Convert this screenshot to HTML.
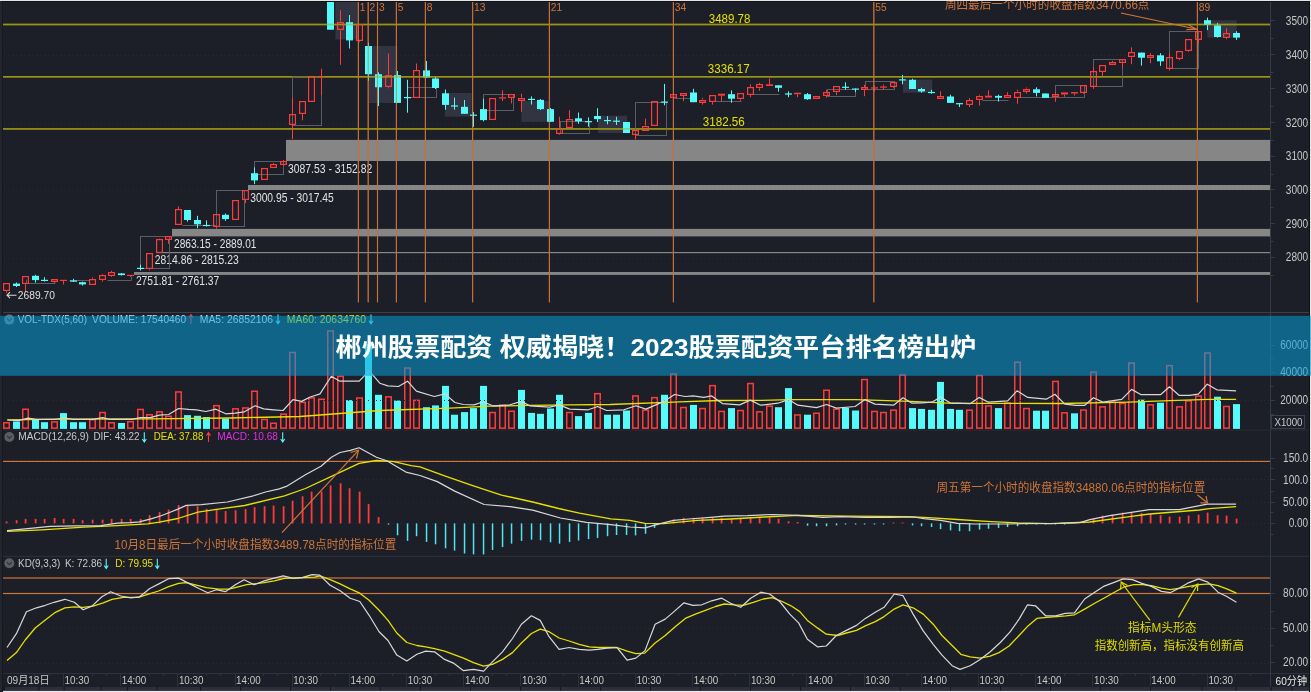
<!DOCTYPE html>
<html><head><meta charset="utf-8"><title>chart</title>
<style>html,body{margin:0;padding:0;background:#1c1f27;overflow:hidden;}svg{display:block;}</style>
</head><body><svg width="1311" height="692" viewBox="0 0 1311 692"><rect x="0" y="0" width="1311" height="692" fill="#1c1f27"/>
<line x1="4" y1="55.5" x2="1270" y2="55.5" stroke="#272b35" stroke-width="1" stroke-dasharray="1 3"/>
<line x1="4" y1="123.5" x2="1270" y2="123.5" stroke="#272b35" stroke-width="1" stroke-dasharray="1 3"/>
<line x1="4" y1="190.5" x2="1270" y2="190.5" stroke="#272b35" stroke-width="1" stroke-dasharray="1 3"/>
<line x1="4" y1="258.5" x2="1270" y2="258.5" stroke="#272b35" stroke-width="1" stroke-dasharray="1 3"/>
<rect x="286" y="139.9" width="984" height="21.099999999999994" fill="#868686"/>
<rect x="248" y="185" width="1022" height="5" fill="#868686"/>
<rect x="172" y="228.9" width="1098" height="7.5" fill="#868686"/>
<rect x="156" y="252" width="1114" height="1.1999999999999886" fill="#868686"/>
<rect x="134" y="272" width="1136" height="2.8999999999999773" fill="#868686"/>
<text x="288.0" y="172.9" font-size="12.2" fill="#e2e2e2" font-family='"Liberation Sans","Noto Sans CJK SC",sans-serif' textLength="84.3" lengthAdjust="spacingAndGlyphs">3087.53 - 3152.82</text>
<text x="250.2" y="201.5" font-size="12.2" fill="#e2e2e2" font-family='"Liberation Sans","Noto Sans CJK SC",sans-serif' textLength="83.6" lengthAdjust="spacingAndGlyphs">3000.95 - 3017.45</text>
<text x="174.0" y="248.0" font-size="12.2" fill="#e2e2e2" font-family='"Liberation Sans","Noto Sans CJK SC",sans-serif' textLength="82.5" lengthAdjust="spacingAndGlyphs">2863.15 - 2889.01</text>
<text x="154.8" y="264.4" font-size="12.2" fill="#e2e2e2" font-family='"Liberation Sans","Noto Sans CJK SC",sans-serif' textLength="83.9" lengthAdjust="spacingAndGlyphs">2814.86 - 2815.23</text>
<text x="135.9" y="285.4" font-size="12.2" fill="#e2e2e2" font-family='"Liberation Sans","Noto Sans CJK SC",sans-serif' textLength="83.3" lengthAdjust="spacingAndGlyphs">2751.81 - 2761.37</text>
<rect x="335.4" y="0" width="22.600000000000023" height="39.4" fill="#3a3c4c" fill-opacity="0.75"/>
<rect x="369" y="46" width="28.399999999999977" height="57" fill="#3a3c4c" fill-opacity="0.75"/>
<rect x="445" y="93" width="26.600000000000023" height="23.599999999999994" fill="#3a3c4c" fill-opacity="0.75"/>
<rect x="521.4" y="101" width="28.899999999999977" height="20.900000000000006" fill="#3a3c4c" fill-opacity="0.75"/>
<rect x="598" y="115.7" width="29" height="17.299999999999997" fill="#3a3c4c" fill-opacity="0.75"/>
<rect x="903" y="79.5" width="29.299999999999955" height="13.200000000000003" fill="#3a3c4c" fill-opacity="0.75"/>
<rect x="1207.3" y="20.2" width="29.40000000000009" height="17.400000000000002" fill="#3a3c4c" fill-opacity="0.75"/>
<rect x="3" y="23.7" width="1267" height="1.6" fill="#9a9414"/>
<text x="708.8" y="22.8" font-size="13" fill="#e6e000" font-family='"Liberation Sans","Noto Sans CJK SC",sans-serif' textLength="41.6" lengthAdjust="spacingAndGlyphs">3489.78</text>
<rect x="3" y="76.0" width="1267" height="1.6" fill="#9a9414"/>
<text x="707.8" y="73.0" font-size="13" fill="#e6e000" font-family='"Liberation Sans","Noto Sans CJK SC",sans-serif' textLength="41.9" lengthAdjust="spacingAndGlyphs">3336.17</text>
<rect x="3" y="128.1" width="1267" height="1.6" fill="#9a9414"/>
<text x="702.8" y="125.6" font-size="13" fill="#e6e000" font-family='"Liberation Sans","Noto Sans CJK SC",sans-serif' textLength="42.0" lengthAdjust="spacingAndGlyphs">3182.56</text>
<rect x="140.5" y="236.5" width="29" height="32" fill="none" stroke="#5a5d64" stroke-width="1"/>
<rect x="216.5" y="190.5" width="28" height="36" fill="none" stroke="#5a5d64" stroke-width="1"/>
<rect x="254.5" y="161.5" width="29" height="13" fill="none" stroke="#5a5d64" stroke-width="1"/>
<rect x="292.5" y="76.5" width="29" height="49" fill="none" stroke="#5a5d64" stroke-width="1"/>
<rect x="407.5" y="87.5" width="29" height="10" fill="none" stroke="#5a5d64" stroke-width="1"/>
<rect x="483.5" y="94.5" width="30" height="16" fill="none" stroke="#5a5d64" stroke-width="1"/>
<rect x="560.5" y="121.5" width="29" height="12" fill="none" stroke="#5a5d64" stroke-width="1"/>
<rect x="635.5" y="102.5" width="31" height="33" fill="none" stroke="#5a5d64" stroke-width="1"/>
<rect x="827.5" y="89.5" width="28" height="7" fill="none" stroke="#5a5d64" stroke-width="1"/>
<rect x="865.5" y="81.5" width="29" height="8" fill="none" stroke="#5a5d64" stroke-width="1"/>
<rect x="1055.5" y="85.5" width="29" height="12" fill="none" stroke="#5a5d64" stroke-width="1"/>
<rect x="1093.5" y="59.5" width="29" height="27" fill="none" stroke="#5a5d64" stroke-width="1"/>
<rect x="1169.5" y="31.5" width="29" height="37" fill="none" stroke="#5a5d64" stroke-width="1"/>
<polyline points="26.5,279.5 26.5,283.5 55.5,283.5" fill="none" stroke="#5a5d64" stroke-width="1"/>
<polyline points="69.5,280.5 89.5,280.5" fill="none" stroke="#5a5d64" stroke-width="1"/>
<polyline points="107.5,280.5 131.5,280.5 131.5,276.5" fill="none" stroke="#5a5d64" stroke-width="1"/>
<polyline points="182.5,225.5 216.5,225.5" fill="none" stroke="#5a5d64" stroke-width="1"/>
<polyline points="674.5,98.5 690.5,98.5" fill="none" stroke="#5a5d64" stroke-width="1"/>
<polyline points="713.5,101.5 741.5,101.5" fill="none" stroke="#5a5d64" stroke-width="1"/>
<polyline points="750.5,94.5 779.5,94.5" fill="none" stroke="#5a5d64" stroke-width="1"/>
<polyline points="982.5,100.5 1008.5,100.5" fill="none" stroke="#5a5d64" stroke-width="1"/>
<polyline points="1020.5,97.5 1055.5,97.5" fill="none" stroke="#5a5d64" stroke-width="1"/>
<rect x="357.84999999999997" y="1" width="1.1" height="301.3" fill="#c8703a"/>
<rect x="367.65" y="1" width="1.1" height="301.3" fill="#c8703a"/>
<rect x="376.95" y="1" width="1.1" height="301.3" fill="#c8703a"/>
<rect x="395.84999999999997" y="1" width="1.1" height="301.3" fill="#c8703a"/>
<rect x="424.84999999999997" y="1" width="1.1" height="301.3" fill="#c8703a"/>
<rect x="472.05" y="1" width="1.1" height="301.3" fill="#c8703a"/>
<rect x="548.85" y="1" width="1.1" height="301.3" fill="#c8703a"/>
<rect x="672.85" y="1" width="1.1" height="301.3" fill="#c8703a"/>
<rect x="873.25" y="1" width="1.1" height="301.3" fill="#c8703a"/>
<rect x="1196.8500000000001" y="1" width="1.1" height="301.3" fill="#c8703a"/>
<rect x="6" y="291.3" width="1" height="1.6" fill="#ff3a3a"/>
<rect x="3.6" y="283.60" width="5.8" height="6.80" fill="none" stroke="#ff3a3a" stroke-width="1.2"/>
<rect x="16" y="282.5" width="1" height="4.5" fill="#55fafa"/>
<rect x="13" y="283.6" width="7" height="2.4" fill="#55fafa"/>
<rect x="25" y="283.6" width="1" height="8.3" fill="#ff3a3a"/>
<rect x="22.6" y="276.60" width="5.8" height="6.80" fill="none" stroke="#ff3a3a" stroke-width="1.2"/>
<rect x="35" y="274.8" width="1" height="7.8" fill="#55fafa"/>
<rect x="32" y="275.8" width="7" height="4.3" fill="#55fafa"/>
<rect x="44" y="277.2" width="1" height="4.3" fill="#55fafa"/>
<rect x="41" y="279.8" width="7" height="1.2" fill="#55fafa"/>
<rect x="54" y="281.7" width="1" height="1.3" fill="#ff3a3a"/>
<rect x="51.6" y="279.60" width="5.8" height="1.80" fill="none" stroke="#ff3a3a" stroke-width="1.2"/>
<rect x="63" y="280.9" width="1" height="3.5" fill="#ff3a3a"/>
<rect x="60" y="279.8" width="7" height="1.2" fill="#ff3a3a"/>
<rect x="73" y="278.8" width="1" height="3.2" fill="#55fafa"/>
<rect x="70" y="280.4" width="7" height="1.3" fill="#55fafa"/>
<rect x="82" y="281.7" width="1" height="3.8" fill="#55fafa"/>
<rect x="79" y="282.2" width="7" height="2.2" fill="#55fafa"/>
<rect x="92" y="277.4" width="1" height="1.3" fill="#ff3a3a"/>
<rect x="89.6" y="279.60" width="5.8" height="4.80" fill="none" stroke="#ff3a3a" stroke-width="1.2"/>
<rect x="102" y="274.2" width="1" height="0.9" fill="#ff3a3a"/>
<rect x="102" y="280.1" width="1" height="1.6" fill="#ff3a3a"/>
<rect x="99.6" y="275.60" width="5.8" height="3.80" fill="none" stroke="#ff3a3a" stroke-width="1.2"/>
<rect x="111" y="270.8" width="1" height="1.5" fill="#ff3a3a"/>
<rect x="111" y="275.8" width="1" height="1.1" fill="#ff3a3a"/>
<rect x="108.6" y="272.60" width="5.8" height="2.80" fill="none" stroke="#ff3a3a" stroke-width="1.2"/>
<rect x="121" y="273.0" width="1" height="2.5" fill="#55fafa"/>
<rect x="118" y="273.4" width="7" height="1.7" fill="#55fafa"/>
<rect x="130" y="275.5" width="1" height="1.4" fill="#ff3a3a"/>
<rect x="127" y="274.8" width="7" height="1.2" fill="#ff3a3a"/>
<rect x="140" y="264.6" width="1" height="5.9" fill="#55fafa"/>
<rect x="137" y="267.8" width="7" height="1.2" fill="#55fafa"/>
<rect x="149" y="269.4" width="1" height="1.1" fill="#ff3a3a"/>
<rect x="146.6" y="253.60" width="5.8" height="14.80" fill="none" stroke="#ff3a3a" stroke-width="1.2"/>
<rect x="159" y="238.6" width="1" height="0.6" fill="#ff3a3a"/>
<rect x="156.6" y="239.60" width="5.8" height="12.80" fill="none" stroke="#ff3a3a" stroke-width="1.2"/>
<rect x="168" y="239.9" width="1" height="3.9" fill="#ff3a3a"/>
<rect x="165.6" y="236.60" width="5.8" height="2.80" fill="none" stroke="#ff3a3a" stroke-width="1.2"/>
<rect x="178" y="206.4" width="1" height="2.9" fill="#ff3a3a"/>
<rect x="175.6" y="209.60" width="5.8" height="14.80" fill="none" stroke="#ff3a3a" stroke-width="1.2"/>
<rect x="187" y="210.0" width="1" height="11.7" fill="#55fafa"/>
<rect x="184" y="210.0" width="7" height="10.0" fill="#55fafa"/>
<rect x="197" y="215.8" width="1" height="12.4" fill="#55fafa"/>
<rect x="194" y="220.0" width="7" height="4.3" fill="#55fafa"/>
<rect x="206" y="220.4" width="1" height="6.1" fill="#55fafa"/>
<rect x="203" y="224.9" width="7" height="1.2" fill="#55fafa"/>
<rect x="216" y="226.9" width="1" height="1.7" fill="#ff3a3a"/>
<rect x="213.6" y="214.60" width="5.8" height="11.80" fill="none" stroke="#ff3a3a" stroke-width="1.2"/>
<rect x="225" y="213.5" width="1" height="7.3" fill="#55fafa"/>
<rect x="222" y="214.8" width="7" height="4.3" fill="#55fafa"/>
<rect x="232.6" y="200.60" width="5.8" height="18.80" fill="none" stroke="#ff3a3a" stroke-width="1.2"/>
<rect x="245" y="199.9" width="1" height="3.3" fill="#ff3a3a"/>
<rect x="242.6" y="190.60" width="5.8" height="8.80" fill="none" stroke="#ff3a3a" stroke-width="1.2"/>
<rect x="254" y="167.4" width="1" height="16.7" fill="#55fafa"/>
<rect x="251" y="173.2" width="7" height="7.2" fill="#55fafa"/>
<rect x="261.6" y="168.60" width="5.8" height="10.80" fill="none" stroke="#ff3a3a" stroke-width="1.2"/>
<rect x="273" y="163.0" width="1" height="1.1" fill="#ff3a3a"/>
<rect x="270.6" y="164.60" width="5.8" height="2.80" fill="none" stroke="#ff3a3a" stroke-width="1.2"/>
<rect x="283" y="160.0" width="1" height="0.9" fill="#ff3a3a"/>
<rect x="283" y="165.2" width="1" height="0.8" fill="#ff3a3a"/>
<rect x="280.6" y="161.60" width="5.8" height="2.80" fill="none" stroke="#ff3a3a" stroke-width="1.2"/>
<rect x="292" y="98.0" width="1" height="15.8" fill="#ff3a3a"/>
<rect x="292" y="124.6" width="1" height="14.6" fill="#ff3a3a"/>
<rect x="289.6" y="114.60" width="5.8" height="9.80" fill="none" stroke="#ff3a3a" stroke-width="1.2"/>
<rect x="302" y="113.8" width="1" height="6.5" fill="#ff3a3a"/>
<rect x="299.6" y="101.60" width="5.8" height="11.80" fill="none" stroke="#ff3a3a" stroke-width="1.2"/>
<rect x="308.6" y="76.60" width="5.8" height="24.80" fill="none" stroke="#ff3a3a" stroke-width="1.2"/>
<rect x="321" y="68.7" width="1" height="7.3" fill="#ff3a3a"/>
<rect x="321" y="77.0" width="1" height="18.1" fill="#ff3a3a"/>
<rect x="318" y="76.0" width="7" height="1.2" fill="#ff3a3a"/>
<rect x="330" y="0.0" width="1" height="29.7" fill="#55fafa"/>
<rect x="327" y="0.0" width="7" height="29.7" fill="#55fafa"/>
<rect x="340" y="10.3" width="1" height="11.3" fill="#ff3a3a"/>
<rect x="340" y="30.4" width="1" height="34.4" fill="#ff3a3a"/>
<rect x="337.6" y="22.60" width="5.8" height="6.80" fill="none" stroke="#ff3a3a" stroke-width="1.2"/>
<rect x="349" y="15.0" width="1" height="33.5" fill="#55fafa"/>
<rect x="346" y="22.2" width="7" height="18.2" fill="#55fafa"/>
<rect x="359" y="41.3" width="1" height="1.0" fill="#ff3a3a"/>
<rect x="356.6" y="24.60" width="5.8" height="15.80" fill="none" stroke="#ff3a3a" stroke-width="1.2"/>
<rect x="368" y="42.8" width="1" height="38.0" fill="#55fafa"/>
<rect x="365" y="46.0" width="7" height="28.2" fill="#55fafa"/>
<rect x="378" y="72.3" width="1" height="33.8" fill="#55fafa"/>
<rect x="375" y="74.2" width="7" height="13.1" fill="#55fafa"/>
<rect x="388" y="53.5" width="1" height="21.2" fill="#ff3a3a"/>
<rect x="388" y="87.3" width="1" height="1.0" fill="#ff3a3a"/>
<rect x="385.6" y="75.60" width="5.8" height="10.80" fill="none" stroke="#ff3a3a" stroke-width="1.2"/>
<rect x="397" y="71.0" width="1" height="31.9" fill="#55fafa"/>
<rect x="394" y="75.1" width="7" height="27.8" fill="#55fafa"/>
<rect x="407" y="79.8" width="1" height="32.9" fill="#55fafa"/>
<rect x="404" y="97.0" width="7" height="1.2" fill="#55fafa"/>
<rect x="416" y="63.5" width="1" height="6.4" fill="#ff3a3a"/>
<rect x="413.6" y="70.60" width="5.8" height="26.80" fill="none" stroke="#ff3a3a" stroke-width="1.2"/>
<rect x="426" y="61.0" width="1" height="17.0" fill="#55fafa"/>
<rect x="423" y="70.4" width="7" height="7.0" fill="#55fafa"/>
<rect x="435" y="77.0" width="1" height="12.0" fill="#55fafa"/>
<rect x="432" y="78.5" width="7" height="9.5" fill="#55fafa"/>
<rect x="445" y="89.5" width="1" height="20.2" fill="#55fafa"/>
<rect x="442" y="93.3" width="7" height="11.6" fill="#55fafa"/>
<rect x="454" y="97.6" width="1" height="12.1" fill="#55fafa"/>
<rect x="451" y="105.4" width="7" height="1.2" fill="#55fafa"/>
<rect x="464" y="100.0" width="1" height="13.8" fill="#55fafa"/>
<rect x="461" y="106.8" width="7" height="7.0" fill="#55fafa"/>
<rect x="473" y="112.0" width="1" height="14.8" fill="#55fafa"/>
<rect x="470" y="114.6" width="7" height="1.2" fill="#55fafa"/>
<rect x="483" y="98.7" width="1" height="22.6" fill="#55fafa"/>
<rect x="480" y="109.1" width="7" height="11.0" fill="#55fafa"/>
<rect x="489.6" y="98.60" width="5.8" height="20.80" fill="none" stroke="#ff3a3a" stroke-width="1.2"/>
<rect x="502" y="90.3" width="1" height="7.0" fill="#ff3a3a"/>
<rect x="502" y="97.9" width="1" height="3.1" fill="#ff3a3a"/>
<rect x="499" y="97.3" width="7" height="1.2" fill="#ff3a3a"/>
<rect x="511" y="97.6" width="1" height="5.8" fill="#ff3a3a"/>
<rect x="508.6" y="94.60" width="5.8" height="2.80" fill="none" stroke="#ff3a3a" stroke-width="1.2"/>
<rect x="521" y="93.8" width="1" height="3.8" fill="#ff3a3a"/>
<rect x="521" y="101.0" width="1" height="10.8" fill="#ff3a3a"/>
<rect x="518.6" y="98.60" width="5.8" height="1.80" fill="none" stroke="#ff3a3a" stroke-width="1.2"/>
<rect x="531" y="96.4" width="1" height="8.1" fill="#55fafa"/>
<rect x="528" y="98.8" width="7" height="1.2" fill="#55fafa"/>
<rect x="540" y="99.0" width="1" height="11.0" fill="#55fafa"/>
<rect x="537" y="99.9" width="7" height="9.2" fill="#55fafa"/>
<rect x="550" y="108.0" width="1" height="14.0" fill="#55fafa"/>
<rect x="547" y="109.1" width="7" height="12.7" fill="#55fafa"/>
<rect x="559" y="116.8" width="1" height="11.0" fill="#ff3a3a"/>
<rect x="559" y="133.6" width="1" height="1.1" fill="#ff3a3a"/>
<rect x="556.6" y="128.60" width="5.8" height="4.80" fill="none" stroke="#ff3a3a" stroke-width="1.2"/>
<rect x="569" y="110.2" width="1" height="8.4" fill="#ff3a3a"/>
<rect x="566.6" y="119.60" width="5.8" height="7.80" fill="none" stroke="#ff3a3a" stroke-width="1.2"/>
<rect x="578" y="112.5" width="1" height="11.3" fill="#55fafa"/>
<rect x="575" y="118.3" width="7" height="3.1" fill="#55fafa"/>
<rect x="588" y="117.4" width="1" height="9.2" fill="#55fafa"/>
<rect x="585" y="121.1" width="7" height="1.2" fill="#55fafa"/>
<rect x="597" y="108.2" width="1" height="13.8" fill="#55fafa"/>
<rect x="594" y="116.0" width="7" height="3.1" fill="#55fafa"/>
<rect x="607" y="116.2" width="1" height="8.1" fill="#55fafa"/>
<rect x="604" y="120.0" width="7" height="1.2" fill="#55fafa"/>
<rect x="616" y="116.8" width="1" height="8.1" fill="#55fafa"/>
<rect x="613" y="120.6" width="7" height="1.2" fill="#55fafa"/>
<rect x="626" y="122.0" width="1" height="11.0" fill="#55fafa"/>
<rect x="623" y="122.0" width="7" height="11.0" fill="#55fafa"/>
<rect x="635" y="135.0" width="1" height="4.4" fill="#ff3a3a"/>
<rect x="632.6" y="130.60" width="5.8" height="3.80" fill="none" stroke="#ff3a3a" stroke-width="1.2"/>
<rect x="645" y="118.6" width="1" height="6.9" fill="#ff3a3a"/>
<rect x="642.6" y="126.60" width="5.8" height="3.80" fill="none" stroke="#ff3a3a" stroke-width="1.2"/>
<rect x="651.6" y="101.60" width="5.8" height="23.80" fill="none" stroke="#ff3a3a" stroke-width="1.2"/>
<rect x="664" y="83.9" width="1" height="21.4" fill="#55fafa"/>
<rect x="661" y="101.5" width="7" height="1.2" fill="#55fafa"/>
<rect x="673" y="97.7" width="1" height="12.8" fill="#ff3a3a"/>
<rect x="670.6" y="94.60" width="5.8" height="2.80" fill="none" stroke="#ff3a3a" stroke-width="1.2"/>
<rect x="683" y="95.2" width="1" height="6.0" fill="#ff3a3a"/>
<rect x="680.6" y="93.60" width="5.8" height="1.80" fill="none" stroke="#ff3a3a" stroke-width="1.2"/>
<rect x="693" y="88.8" width="1" height="13.4" fill="#55fafa"/>
<rect x="690" y="92.5" width="7" height="9.7" fill="#55fafa"/>
<rect x="702" y="97.7" width="1" height="1.8" fill="#ff3a3a"/>
<rect x="702" y="102.2" width="1" height="2.4" fill="#ff3a3a"/>
<rect x="699.6" y="100.60" width="5.8" height="1.80" fill="none" stroke="#ff3a3a" stroke-width="1.2"/>
<rect x="712" y="101.7" width="1" height="2.9" fill="#ff3a3a"/>
<rect x="709.6" y="95.60" width="5.8" height="5.80" fill="none" stroke="#ff3a3a" stroke-width="1.2"/>
<rect x="721" y="95.7" width="1" height="5.5" fill="#ff3a3a"/>
<rect x="718" y="93.7" width="7" height="2.0" fill="#ff3a3a"/>
<rect x="731" y="90.3" width="1" height="12.4" fill="#55fafa"/>
<rect x="728" y="94.2" width="7" height="4.5" fill="#55fafa"/>
<rect x="740" y="99.2" width="1" height="1.5" fill="#ff3a3a"/>
<rect x="737.6" y="93.60" width="5.8" height="4.80" fill="none" stroke="#ff3a3a" stroke-width="1.2"/>
<rect x="750" y="84.3" width="1" height="2.5" fill="#ff3a3a"/>
<rect x="750" y="94.7" width="1" height="2.5" fill="#ff3a3a"/>
<rect x="747.6" y="87.60" width="5.8" height="6.80" fill="none" stroke="#ff3a3a" stroke-width="1.2"/>
<rect x="759" y="82.8" width="1" height="1.5" fill="#ff3a3a"/>
<rect x="759" y="88.3" width="1" height="2.5" fill="#ff3a3a"/>
<rect x="756.6" y="84.60" width="5.8" height="2.80" fill="none" stroke="#ff3a3a" stroke-width="1.2"/>
<rect x="769" y="78.4" width="1" height="5.9" fill="#ff3a3a"/>
<rect x="766" y="84.3" width="7" height="1.7" fill="#ff3a3a"/>
<rect x="778" y="85.3" width="1" height="6.4" fill="#55fafa"/>
<rect x="775" y="85.3" width="7" height="2.5" fill="#55fafa"/>
<rect x="788" y="91.3" width="1" height="5.9" fill="#55fafa"/>
<rect x="785" y="93.4" width="7" height="1.2" fill="#55fafa"/>
<rect x="797" y="94.2" width="1" height="3.0" fill="#ff3a3a"/>
<rect x="794" y="92.7" width="7" height="1.5" fill="#ff3a3a"/>
<rect x="807" y="93.0" width="1" height="6.8" fill="#55fafa"/>
<rect x="804" y="94.2" width="7" height="5.0" fill="#55fafa"/>
<rect x="813.6" y="96.60" width="5.8" height="1.80" fill="none" stroke="#ff3a3a" stroke-width="1.2"/>
<rect x="826" y="89.8" width="1" height="2.1" fill="#ff3a3a"/>
<rect x="826" y="96.2" width="1" height="1.5" fill="#ff3a3a"/>
<rect x="823.6" y="92.60" width="5.8" height="2.80" fill="none" stroke="#ff3a3a" stroke-width="1.2"/>
<rect x="836" y="92.2" width="1" height="3.0" fill="#ff3a3a"/>
<rect x="833.6" y="86.60" width="5.8" height="4.80" fill="none" stroke="#ff3a3a" stroke-width="1.2"/>
<rect x="845" y="82.3" width="1" height="7.5" fill="#55fafa"/>
<rect x="842" y="86.7" width="7" height="1.2" fill="#55fafa"/>
<rect x="855" y="88.5" width="1" height="3.7" fill="#55fafa"/>
<rect x="852" y="88.5" width="7" height="1.2" fill="#55fafa"/>
<rect x="864" y="84.8" width="1" height="2.5" fill="#ff3a3a"/>
<rect x="864" y="89.6" width="1" height="6.6" fill="#ff3a3a"/>
<rect x="861.6" y="87.60" width="5.8" height="1.80" fill="none" stroke="#ff3a3a" stroke-width="1.2"/>
<rect x="874" y="85.6" width="1" height="1.7" fill="#ff3a3a"/>
<rect x="874" y="87.9" width="1" height="3.6" fill="#ff3a3a"/>
<rect x="871" y="87.3" width="7" height="1.2" fill="#ff3a3a"/>
<rect x="883" y="84.6" width="1" height="1.9" fill="#ff3a3a"/>
<rect x="883" y="87.1" width="1" height="2.7" fill="#ff3a3a"/>
<rect x="880" y="86.5" width="7" height="1.2" fill="#ff3a3a"/>
<rect x="893" y="86.6" width="1" height="1.2" fill="#ff3a3a"/>
<rect x="890.6" y="82.60" width="5.8" height="3.80" fill="none" stroke="#ff3a3a" stroke-width="1.2"/>
<rect x="902" y="74.9" width="1" height="9.4" fill="#55fafa"/>
<rect x="899" y="79.3" width="7" height="1.2" fill="#55fafa"/>
<rect x="912" y="78.7" width="1" height="10.3" fill="#55fafa"/>
<rect x="909" y="79.8" width="7" height="9.2" fill="#55fafa"/>
<rect x="921" y="87.8" width="1" height="4.9" fill="#55fafa"/>
<rect x="918" y="89.0" width="7" height="2.5" fill="#55fafa"/>
<rect x="931" y="89.8" width="1" height="3.9" fill="#55fafa"/>
<rect x="928" y="91.9" width="7" height="1.2" fill="#55fafa"/>
<rect x="940" y="91.3" width="1" height="4.9" fill="#ff3a3a"/>
<rect x="937.6" y="96.60" width="5.8" height="1.80" fill="none" stroke="#ff3a3a" stroke-width="1.2"/>
<rect x="950" y="94.7" width="1" height="8.2" fill="#55fafa"/>
<rect x="947" y="96.5" width="7" height="6.4" fill="#55fafa"/>
<rect x="959" y="103.1" width="1" height="4.0" fill="#55fafa"/>
<rect x="956" y="103.1" width="7" height="1.2" fill="#55fafa"/>
<rect x="969" y="98.2" width="1" height="2.0" fill="#ff3a3a"/>
<rect x="969" y="104.6" width="1" height="2.5" fill="#ff3a3a"/>
<rect x="966.6" y="100.60" width="5.8" height="3.80" fill="none" stroke="#ff3a3a" stroke-width="1.2"/>
<rect x="979" y="94.7" width="1" height="1.0" fill="#ff3a3a"/>
<rect x="979" y="100.2" width="1" height="5.4" fill="#ff3a3a"/>
<rect x="976.6" y="96.60" width="5.8" height="2.80" fill="none" stroke="#ff3a3a" stroke-width="1.2"/>
<rect x="988" y="90.3" width="1" height="5.4" fill="#ff3a3a"/>
<rect x="985" y="95.7" width="7" height="1.8" fill="#ff3a3a"/>
<rect x="998" y="94.7" width="1" height="6.8" fill="#55fafa"/>
<rect x="995" y="95.9" width="7" height="1.8" fill="#55fafa"/>
<rect x="1007" y="92.2" width="1" height="3.0" fill="#ff3a3a"/>
<rect x="1004.6" y="95.60" width="5.8" height="1.80" fill="none" stroke="#ff3a3a" stroke-width="1.2"/>
<rect x="1017" y="89.8" width="1" height="1.9" fill="#ff3a3a"/>
<rect x="1017" y="97.7" width="1" height="6.0" fill="#ff3a3a"/>
<rect x="1014.6" y="92.60" width="5.8" height="4.80" fill="none" stroke="#ff3a3a" stroke-width="1.2"/>
<rect x="1026" y="87.5" width="1" height="1.1" fill="#ff3a3a"/>
<rect x="1026" y="91.7" width="1" height="1.8" fill="#ff3a3a"/>
<rect x="1023.6" y="89.60" width="5.8" height="1.80" fill="none" stroke="#ff3a3a" stroke-width="1.2"/>
<rect x="1036" y="87.3" width="1" height="9.1" fill="#55fafa"/>
<rect x="1033" y="89.3" width="7" height="3.6" fill="#55fafa"/>
<rect x="1045" y="93.5" width="1" height="4.4" fill="#55fafa"/>
<rect x="1042" y="93.5" width="7" height="4.4" fill="#55fafa"/>
<rect x="1055" y="91.6" width="1" height="2.2" fill="#ff3a3a"/>
<rect x="1055" y="97.4" width="1" height="4.4" fill="#ff3a3a"/>
<rect x="1052.6" y="94.60" width="5.8" height="1.80" fill="none" stroke="#ff3a3a" stroke-width="1.2"/>
<rect x="1064" y="94.5" width="1" height="2.2" fill="#ff3a3a"/>
<rect x="1061" y="92.4" width="7" height="2.1" fill="#ff3a3a"/>
<rect x="1074" y="93.5" width="1" height="2.0" fill="#ff3a3a"/>
<rect x="1071" y="92.1" width="7" height="1.4" fill="#ff3a3a"/>
<rect x="1083" y="92.7" width="1" height="1.1" fill="#ff3a3a"/>
<rect x="1080.6" y="85.60" width="5.8" height="6.80" fill="none" stroke="#ff3a3a" stroke-width="1.2"/>
<rect x="1093" y="67.1" width="1" height="4.3" fill="#ff3a3a"/>
<rect x="1093" y="86.9" width="1" height="1.9" fill="#ff3a3a"/>
<rect x="1090.6" y="71.60" width="5.8" height="14.80" fill="none" stroke="#ff3a3a" stroke-width="1.2"/>
<rect x="1102" y="71.8" width="1" height="4.0" fill="#ff3a3a"/>
<rect x="1099.6" y="65.60" width="5.8" height="5.80" fill="none" stroke="#ff3a3a" stroke-width="1.2"/>
<rect x="1112" y="60.8" width="1" height="1.5" fill="#ff3a3a"/>
<rect x="1109.6" y="62.60" width="5.8" height="1.80" fill="none" stroke="#ff3a3a" stroke-width="1.2"/>
<rect x="1122" y="63.2" width="1" height="4.3" fill="#ff3a3a"/>
<rect x="1119.6" y="59.60" width="5.8" height="2.80" fill="none" stroke="#ff3a3a" stroke-width="1.2"/>
<rect x="1131" y="47.3" width="1" height="4.6" fill="#ff3a3a"/>
<rect x="1131" y="57.4" width="1" height="6.8" fill="#ff3a3a"/>
<rect x="1128.6" y="52.60" width="5.8" height="3.80" fill="none" stroke="#ff3a3a" stroke-width="1.2"/>
<rect x="1141" y="52.6" width="1" height="13.0" fill="#55fafa"/>
<rect x="1138" y="52.6" width="7" height="5.1" fill="#55fafa"/>
<rect x="1150" y="53.1" width="1" height="1.7" fill="#ff3a3a"/>
<rect x="1150" y="58.4" width="1" height="4.8" fill="#ff3a3a"/>
<rect x="1147.6" y="55.60" width="5.8" height="1.80" fill="none" stroke="#ff3a3a" stroke-width="1.2"/>
<rect x="1160" y="53.2" width="1" height="12.7" fill="#55fafa"/>
<rect x="1157" y="55.3" width="7" height="6.0" fill="#55fafa"/>
<rect x="1169" y="53.4" width="1" height="3.8" fill="#ff3a3a"/>
<rect x="1169" y="68.8" width="1" height="1.7" fill="#ff3a3a"/>
<rect x="1166.6" y="57.60" width="5.8" height="10.80" fill="none" stroke="#ff3a3a" stroke-width="1.2"/>
<rect x="1179" y="59.0" width="1" height="1.1" fill="#ff3a3a"/>
<rect x="1176.6" y="51.60" width="5.8" height="6.80" fill="none" stroke="#ff3a3a" stroke-width="1.2"/>
<rect x="1188" y="50.9" width="1" height="0.9" fill="#ff3a3a"/>
<rect x="1185.6" y="39.60" width="5.8" height="10.80" fill="none" stroke="#ff3a3a" stroke-width="1.2"/>
<rect x="1198" y="39.9" width="1" height="3.5" fill="#ff3a3a"/>
<rect x="1195.6" y="31.60" width="5.8" height="7.80" fill="none" stroke="#ff3a3a" stroke-width="1.2"/>
<rect x="1207" y="17.6" width="1" height="12.5" fill="#55fafa"/>
<rect x="1204" y="20.2" width="7" height="4.7" fill="#55fafa"/>
<rect x="1217" y="22.9" width="1" height="14.7" fill="#55fafa"/>
<rect x="1214" y="25.4" width="7" height="11.6" fill="#55fafa"/>
<rect x="1226" y="28.3" width="1" height="5.0" fill="#ff3a3a"/>
<rect x="1226" y="37.6" width="1" height="1.7" fill="#ff3a3a"/>
<rect x="1223.6" y="33.60" width="5.8" height="3.80" fill="none" stroke="#ff3a3a" stroke-width="1.2"/>
<rect x="1236" y="31.2" width="1" height="8.7" fill="#55fafa"/>
<rect x="1233" y="33.0" width="7" height="4.6" fill="#55fafa"/>
<rect x="357.84999999999997" y="1" width="1.1" height="301.3" fill="#c8703a" fill-opacity="0.6"/>
<text x="359.8" y="11.0" font-size="10.8" fill="#d0753a" font-family='"Liberation Sans","Noto Sans CJK SC",sans-serif' textLength="5.7" lengthAdjust="spacingAndGlyphs">1</text>
<rect x="367.65" y="1" width="1.1" height="301.3" fill="#c8703a" fill-opacity="0.6"/>
<text x="369.6" y="11.0" font-size="10.8" fill="#d0753a" font-family='"Liberation Sans","Noto Sans CJK SC",sans-serif' textLength="5.7" lengthAdjust="spacingAndGlyphs">2</text>
<rect x="376.95" y="1" width="1.1" height="301.3" fill="#c8703a" fill-opacity="0.6"/>
<text x="378.9" y="11.0" font-size="10.8" fill="#d0753a" font-family='"Liberation Sans","Noto Sans CJK SC",sans-serif' textLength="5.7" lengthAdjust="spacingAndGlyphs">3</text>
<rect x="395.84999999999997" y="1" width="1.1" height="301.3" fill="#c8703a" fill-opacity="0.6"/>
<text x="397.8" y="11.0" font-size="10.8" fill="#d0753a" font-family='"Liberation Sans","Noto Sans CJK SC",sans-serif' textLength="5.7" lengthAdjust="spacingAndGlyphs">5</text>
<rect x="424.84999999999997" y="1" width="1.1" height="301.3" fill="#c8703a" fill-opacity="0.6"/>
<text x="426.8" y="11.0" font-size="10.8" fill="#d0753a" font-family='"Liberation Sans","Noto Sans CJK SC",sans-serif' textLength="5.7" lengthAdjust="spacingAndGlyphs">8</text>
<rect x="472.05" y="1" width="1.1" height="301.3" fill="#c8703a" fill-opacity="0.6"/>
<text x="474.0" y="11.0" font-size="10.8" fill="#d0753a" font-family='"Liberation Sans","Noto Sans CJK SC",sans-serif' textLength="11.4" lengthAdjust="spacingAndGlyphs">13</text>
<rect x="548.85" y="1" width="1.1" height="301.3" fill="#c8703a" fill-opacity="0.6"/>
<text x="550.8" y="11.0" font-size="10.8" fill="#d0753a" font-family='"Liberation Sans","Noto Sans CJK SC",sans-serif' textLength="11.4" lengthAdjust="spacingAndGlyphs">21</text>
<rect x="672.85" y="1" width="1.1" height="301.3" fill="#c8703a" fill-opacity="0.6"/>
<text x="674.8" y="11.0" font-size="10.8" fill="#d0753a" font-family='"Liberation Sans","Noto Sans CJK SC",sans-serif' textLength="11.4" lengthAdjust="spacingAndGlyphs">34</text>
<rect x="873.25" y="1" width="1.1" height="301.3" fill="#c8703a" fill-opacity="0.6"/>
<text x="875.2" y="11.0" font-size="10.8" fill="#d0753a" font-family='"Liberation Sans","Noto Sans CJK SC",sans-serif' textLength="11.4" lengthAdjust="spacingAndGlyphs">55</text>
<rect x="1196.8500000000001" y="1" width="1.1" height="301.3" fill="#c8703a" fill-opacity="0.6"/>
<text x="1198.8" y="11.0" font-size="10.8" fill="#d0753a" font-family='"Liberation Sans","Noto Sans CJK SC",sans-serif' textLength="11.4" lengthAdjust="spacingAndGlyphs">89</text>
<rect x="3" y="23.7" width="1267" height="1.6" fill="#9a9414" fill-opacity="0.4"/>
<rect x="3" y="76.0" width="1267" height="1.6" fill="#9a9414" fill-opacity="0.4"/>
<rect x="3" y="128.1" width="1267" height="1.6" fill="#9a9414" fill-opacity="0.4"/>
<line x1="1121" y1="13" x2="1196" y2="29" stroke="#d0753a" stroke-width="1.2"/>
<path d="M1187.5,24.2 L1196.5,29.2 L1186.4,29.7" fill="none" stroke="#d0753a" stroke-width="1.2"/>
<path d="M16.5,295.2 L7,295.2 M10,292.2 L7,295.2 L10,298.2" stroke="#d8d8d8" stroke-width="1.1" fill="none"/>
<text x="17.8" y="299.2" font-size="11.6" fill="#dedede" font-family='"Liberation Sans","Noto Sans CJK SC",sans-serif' textLength="37.1" lengthAdjust="spacingAndGlyphs">2689.70</text>
<rect x="1270" y="0" width="41" height="692" fill="#1c1f27"/>
<rect x="1270" y="2" width="1" height="685" fill="#363b48"/>
<rect x="1271" y="20" width="4" height="1" fill="#363b48"/>
<text x="1285.8" y="24.9" font-size="12" fill="#c8c8c8" font-family='"Liberation Sans","Noto Sans CJK SC",sans-serif' textLength="22.4" lengthAdjust="spacingAndGlyphs">3500</text>
<rect x="1271" y="54" width="4" height="1" fill="#363b48"/>
<text x="1285.8" y="58.7" font-size="12" fill="#c8c8c8" font-family='"Liberation Sans","Noto Sans CJK SC",sans-serif' textLength="22.4" lengthAdjust="spacingAndGlyphs">3400</text>
<rect x="1271" y="88" width="4" height="1" fill="#363b48"/>
<text x="1285.8" y="92.6" font-size="12" fill="#c8c8c8" font-family='"Liberation Sans","Noto Sans CJK SC",sans-serif' textLength="22.4" lengthAdjust="spacingAndGlyphs">3300</text>
<rect x="1271" y="122" width="4" height="1" fill="#363b48"/>
<text x="1285.8" y="126.5" font-size="12" fill="#c8c8c8" font-family='"Liberation Sans","Noto Sans CJK SC",sans-serif' textLength="22.4" lengthAdjust="spacingAndGlyphs">3200</text>
<rect x="1271" y="156" width="4" height="1" fill="#363b48"/>
<text x="1285.8" y="160.4" font-size="12" fill="#c8c8c8" font-family='"Liberation Sans","Noto Sans CJK SC",sans-serif' textLength="22.4" lengthAdjust="spacingAndGlyphs">3100</text>
<rect x="1271" y="189" width="4" height="1" fill="#363b48"/>
<text x="1285.8" y="194.0" font-size="12" fill="#c8c8c8" font-family='"Liberation Sans","Noto Sans CJK SC",sans-serif' textLength="22.4" lengthAdjust="spacingAndGlyphs">3000</text>
<rect x="1271" y="223" width="4" height="1" fill="#363b48"/>
<text x="1285.8" y="227.7" font-size="12" fill="#c8c8c8" font-family='"Liberation Sans","Noto Sans CJK SC",sans-serif' textLength="22.4" lengthAdjust="spacingAndGlyphs">2900</text>
<rect x="1271" y="257" width="4" height="1" fill="#363b48"/>
<text x="1285.8" y="261.4" font-size="12" fill="#c8c8c8" font-family='"Liberation Sans","Noto Sans CJK SC",sans-serif' textLength="22.4" lengthAdjust="spacingAndGlyphs">2800</text>
<rect x="3" y="312" width="1308" height="1" fill="#3a3f4c"/>
<rect x="3.75" y="422.75" width="5.5" height="5.40" fill="none" stroke="#ff3a3a" stroke-width="1.5"/>
<rect x="13" y="421.5" width="7" height="7.4" fill="#55fafa"/>
<rect x="22.75" y="409.25" width="5.5" height="18.90" fill="none" stroke="#ff3a3a" stroke-width="1.5"/>
<rect x="32" y="419.7" width="7" height="9.2" fill="#55fafa"/>
<rect x="41" y="422.2" width="7" height="6.7" fill="#55fafa"/>
<rect x="51.75" y="421.85" width="5.5" height="6.30" fill="none" stroke="#ff3a3a" stroke-width="1.5"/>
<rect x="60" y="413.1" width="7" height="15.8" fill="#55fafa"/>
<rect x="70" y="422.2" width="7" height="6.7" fill="#55fafa"/>
<rect x="79" y="422.2" width="7" height="6.7" fill="#55fafa"/>
<rect x="89.75" y="419.65" width="5.5" height="8.50" fill="none" stroke="#ff3a3a" stroke-width="1.5"/>
<rect x="99.75" y="412.55" width="5.5" height="15.60" fill="none" stroke="#ff3a3a" stroke-width="1.5"/>
<rect x="108.75" y="422.75" width="5.5" height="5.40" fill="none" stroke="#ff3a3a" stroke-width="1.5"/>
<rect x="118" y="423.0" width="7" height="5.9" fill="#55fafa"/>
<rect x="127.75" y="421.65" width="5.5" height="6.50" fill="none" stroke="#ff3a3a" stroke-width="1.5"/>
<rect x="137.75" y="409.45" width="5.5" height="18.70" fill="none" stroke="#ff3a3a" stroke-width="1.5"/>
<rect x="146.75" y="414.75" width="5.5" height="13.40" fill="none" stroke="#ff3a3a" stroke-width="1.5"/>
<rect x="156.75" y="411.85" width="5.5" height="16.30" fill="none" stroke="#ff3a3a" stroke-width="1.5"/>
<rect x="165.75" y="416.25" width="5.5" height="11.90" fill="none" stroke="#ff3a3a" stroke-width="1.5"/>
<rect x="175.75" y="391.95" width="5.5" height="36.20" fill="none" stroke="#ff3a3a" stroke-width="1.5"/>
<rect x="184" y="415.1" width="7" height="13.8" fill="#55fafa"/>
<rect x="194" y="415.8" width="7" height="13.1" fill="#55fafa"/>
<rect x="203" y="417.1" width="7" height="11.8" fill="#55fafa"/>
<rect x="213.75" y="405.65" width="5.5" height="22.50" fill="none" stroke="#ff3a3a" stroke-width="1.5"/>
<rect x="222" y="418.5" width="7" height="10.4" fill="#55fafa"/>
<rect x="232.75" y="408.85" width="5.5" height="19.30" fill="none" stroke="#ff3a3a" stroke-width="1.5"/>
<rect x="242.75" y="407.95" width="5.5" height="20.20" fill="none" stroke="#ff3a3a" stroke-width="1.5"/>
<rect x="251.75" y="391.25" width="5.5" height="36.90" fill="none" stroke="#ff3a3a" stroke-width="1.5"/>
<rect x="261.75" y="419.45" width="5.5" height="8.70" fill="none" stroke="#ff3a3a" stroke-width="1.5"/>
<rect x="270.75" y="423.25" width="5.5" height="4.90" fill="none" stroke="#ff3a3a" stroke-width="1.5"/>
<rect x="280.75" y="414.15" width="5.5" height="14.00" fill="none" stroke="#ff3a3a" stroke-width="1.5"/>
<rect x="289.75" y="352.45" width="5.5" height="75.70" fill="none" stroke="#ff3a3a" stroke-width="1.5"/>
<rect x="299.75" y="402.35" width="5.5" height="25.80" fill="none" stroke="#ff3a3a" stroke-width="1.5"/>
<rect x="308.75" y="397.95" width="5.5" height="30.20" fill="none" stroke="#ff3a3a" stroke-width="1.5"/>
<rect x="318.75" y="399.25" width="5.5" height="28.90" fill="none" stroke="#ff3a3a" stroke-width="1.5"/>
<rect x="327.75" y="330.95" width="5.5" height="97.20" fill="none" stroke="#ff3a3a" stroke-width="1.5"/>
<rect x="337.75" y="376.35" width="5.5" height="51.80" fill="none" stroke="#ff3a3a" stroke-width="1.5"/>
<rect x="346" y="400.1" width="7" height="28.8" fill="#55fafa"/>
<rect x="356.75" y="397.95" width="5.5" height="30.20" fill="none" stroke="#ff3a3a" stroke-width="1.5"/>
<rect x="365" y="344.0" width="7" height="84.9" fill="#55fafa"/>
<rect x="375" y="394.8" width="7" height="34.1" fill="#55fafa"/>
<rect x="385.75" y="396.85" width="5.5" height="31.30" fill="none" stroke="#ff3a3a" stroke-width="1.5"/>
<rect x="394" y="400.5" width="7" height="28.4" fill="#55fafa"/>
<rect x="404.75" y="368.05" width="5.5" height="60.10" fill="none" stroke="#ff3a3a" stroke-width="1.5"/>
<rect x="413.75" y="400.35" width="5.5" height="27.80" fill="none" stroke="#ff3a3a" stroke-width="1.5"/>
<rect x="423" y="407.2" width="7" height="21.7" fill="#55fafa"/>
<rect x="432" y="405.4" width="7" height="23.5" fill="#55fafa"/>
<rect x="442" y="385.9" width="7" height="43.0" fill="#55fafa"/>
<rect x="451" y="414.7" width="7" height="14.2" fill="#55fafa"/>
<rect x="461" y="412.1" width="7" height="16.8" fill="#55fafa"/>
<rect x="470" y="408.1" width="7" height="20.8" fill="#55fafa"/>
<rect x="480" y="385.9" width="7" height="43.0" fill="#55fafa"/>
<rect x="489.75" y="412.55" width="5.5" height="15.60" fill="none" stroke="#ff3a3a" stroke-width="1.5"/>
<rect x="499.75" y="405.25" width="5.5" height="22.90" fill="none" stroke="#ff3a3a" stroke-width="1.5"/>
<rect x="508.75" y="411.25" width="5.5" height="16.90" fill="none" stroke="#ff3a3a" stroke-width="1.5"/>
<rect x="518" y="389.9" width="7" height="39.0" fill="#55fafa"/>
<rect x="528" y="412.9" width="7" height="16.0" fill="#55fafa"/>
<rect x="537" y="413.8" width="7" height="15.1" fill="#55fafa"/>
<rect x="547" y="408.5" width="7" height="20.4" fill="#55fafa"/>
<rect x="556" y="394.8" width="7" height="34.1" fill="#55fafa"/>
<rect x="566.75" y="412.55" width="5.5" height="15.60" fill="none" stroke="#ff3a3a" stroke-width="1.5"/>
<rect x="575" y="416.1" width="7" height="12.8" fill="#55fafa"/>
<rect x="585" y="412.9" width="7" height="16.0" fill="#55fafa"/>
<rect x="594.75" y="393.65" width="5.5" height="34.50" fill="none" stroke="#ff3a3a" stroke-width="1.5"/>
<rect x="604" y="414.7" width="7" height="14.2" fill="#55fafa"/>
<rect x="613" y="414.7" width="7" height="14.2" fill="#55fafa"/>
<rect x="623" y="410.5" width="7" height="18.4" fill="#55fafa"/>
<rect x="632.75" y="395.95" width="5.5" height="32.20" fill="none" stroke="#ff3a3a" stroke-width="1.5"/>
<rect x="642.75" y="410.15" width="5.5" height="18.00" fill="none" stroke="#ff3a3a" stroke-width="1.5"/>
<rect x="651.75" y="397.65" width="5.5" height="30.50" fill="none" stroke="#ff3a3a" stroke-width="1.5"/>
<rect x="661" y="394.8" width="7" height="34.1" fill="#55fafa"/>
<rect x="670.75" y="373.95" width="5.5" height="54.20" fill="none" stroke="#ff3a3a" stroke-width="1.5"/>
<rect x="680.75" y="407.55" width="5.5" height="20.60" fill="none" stroke="#ff3a3a" stroke-width="1.5"/>
<rect x="690" y="404.9" width="7" height="24.0" fill="#55fafa"/>
<rect x="699.75" y="408.55" width="5.5" height="19.60" fill="none" stroke="#ff3a3a" stroke-width="1.5"/>
<rect x="709.75" y="385.65" width="5.5" height="42.50" fill="none" stroke="#ff3a3a" stroke-width="1.5"/>
<rect x="718.75" y="411.45" width="5.5" height="16.70" fill="none" stroke="#ff3a3a" stroke-width="1.5"/>
<rect x="728" y="408.1" width="7" height="20.8" fill="#55fafa"/>
<rect x="737.75" y="410.55" width="5.5" height="17.60" fill="none" stroke="#ff3a3a" stroke-width="1.5"/>
<rect x="747.75" y="383.55" width="5.5" height="44.60" fill="none" stroke="#ff3a3a" stroke-width="1.5"/>
<rect x="756.75" y="411.85" width="5.5" height="16.30" fill="none" stroke="#ff3a3a" stroke-width="1.5"/>
<rect x="766.75" y="406.15" width="5.5" height="22.00" fill="none" stroke="#ff3a3a" stroke-width="1.5"/>
<rect x="775" y="407.2" width="7" height="21.7" fill="#55fafa"/>
<rect x="785" y="388.1" width="7" height="40.8" fill="#55fafa"/>
<rect x="794.75" y="414.95" width="5.5" height="13.20" fill="none" stroke="#ff3a3a" stroke-width="1.5"/>
<rect x="804" y="414.7" width="7" height="14.2" fill="#55fafa"/>
<rect x="813.75" y="413.25" width="5.5" height="14.90" fill="none" stroke="#ff3a3a" stroke-width="1.5"/>
<rect x="823.75" y="390.25" width="5.5" height="37.90" fill="none" stroke="#ff3a3a" stroke-width="1.5"/>
<rect x="833.75" y="409.25" width="5.5" height="18.90" fill="none" stroke="#ff3a3a" stroke-width="1.5"/>
<rect x="842" y="407.8" width="7" height="21.1" fill="#55fafa"/>
<rect x="852" y="410.5" width="7" height="18.4" fill="#55fafa"/>
<rect x="861.75" y="379.55" width="5.5" height="48.60" fill="none" stroke="#ff3a3a" stroke-width="1.5"/>
<rect x="871.75" y="411.45" width="5.5" height="16.70" fill="none" stroke="#ff3a3a" stroke-width="1.5"/>
<rect x="880.75" y="412.55" width="5.5" height="15.60" fill="none" stroke="#ff3a3a" stroke-width="1.5"/>
<rect x="890.75" y="410.15" width="5.5" height="18.00" fill="none" stroke="#ff3a3a" stroke-width="1.5"/>
<rect x="899.75" y="375.05" width="5.5" height="53.10" fill="none" stroke="#ff3a3a" stroke-width="1.5"/>
<rect x="909" y="408.1" width="7" height="20.8" fill="#55fafa"/>
<rect x="918" y="408.9" width="7" height="20.0" fill="#55fafa"/>
<rect x="928" y="409.8" width="7" height="19.1" fill="#55fafa"/>
<rect x="937" y="381.9" width="7" height="47.0" fill="#55fafa"/>
<rect x="947" y="408.9" width="7" height="20.0" fill="#55fafa"/>
<rect x="956" y="409.8" width="7" height="19.1" fill="#55fafa"/>
<rect x="966.75" y="410.15" width="5.5" height="18.00" fill="none" stroke="#ff3a3a" stroke-width="1.5"/>
<rect x="976.75" y="375.55" width="5.5" height="52.60" fill="none" stroke="#ff3a3a" stroke-width="1.5"/>
<rect x="985.75" y="405.95" width="5.5" height="22.20" fill="none" stroke="#ff3a3a" stroke-width="1.5"/>
<rect x="995" y="408.1" width="7" height="20.8" fill="#55fafa"/>
<rect x="1004.75" y="402.95" width="5.5" height="25.20" fill="none" stroke="#ff3a3a" stroke-width="1.5"/>
<rect x="1014.75" y="362.25" width="5.5" height="65.90" fill="none" stroke="#ff3a3a" stroke-width="1.5"/>
<rect x="1023.75" y="408.55" width="5.5" height="19.60" fill="none" stroke="#ff3a3a" stroke-width="1.5"/>
<rect x="1033" y="410.7" width="7" height="18.2" fill="#55fafa"/>
<rect x="1042" y="410.7" width="7" height="18.2" fill="#55fafa"/>
<rect x="1052.75" y="381.45" width="5.5" height="46.70" fill="none" stroke="#ff3a3a" stroke-width="1.5"/>
<rect x="1061.75" y="412.85" width="5.5" height="15.30" fill="none" stroke="#ff3a3a" stroke-width="1.5"/>
<rect x="1071" y="413.3" width="7" height="15.6" fill="#55fafa"/>
<rect x="1080.75" y="410.05" width="5.5" height="18.10" fill="none" stroke="#ff3a3a" stroke-width="1.5"/>
<rect x="1090.75" y="372.15" width="5.5" height="56.00" fill="none" stroke="#ff3a3a" stroke-width="1.5"/>
<rect x="1099.75" y="406.85" width="5.5" height="21.30" fill="none" stroke="#ff3a3a" stroke-width="1.5"/>
<rect x="1109.75" y="402.05" width="5.5" height="26.10" fill="none" stroke="#ff3a3a" stroke-width="1.5"/>
<rect x="1119.75" y="403.45" width="5.5" height="24.70" fill="none" stroke="#ff3a3a" stroke-width="1.5"/>
<rect x="1128.75" y="363.05" width="5.5" height="65.10" fill="none" stroke="#ff3a3a" stroke-width="1.5"/>
<rect x="1138" y="399.7" width="7" height="29.2" fill="#55fafa"/>
<rect x="1147.75" y="404.85" width="5.5" height="23.30" fill="none" stroke="#ff3a3a" stroke-width="1.5"/>
<rect x="1157" y="402.7" width="7" height="26.2" fill="#55fafa"/>
<rect x="1166.75" y="365.65" width="5.5" height="62.50" fill="none" stroke="#ff3a3a" stroke-width="1.5"/>
<rect x="1176.75" y="406.85" width="5.5" height="21.30" fill="none" stroke="#ff3a3a" stroke-width="1.5"/>
<rect x="1185.75" y="400.85" width="5.5" height="27.30" fill="none" stroke="#ff3a3a" stroke-width="1.5"/>
<rect x="1195.75" y="396.05" width="5.5" height="32.10" fill="none" stroke="#ff3a3a" stroke-width="1.5"/>
<rect x="1204.75" y="353.05" width="5.5" height="75.10" fill="none" stroke="#ff3a3a" stroke-width="1.5"/>
<rect x="1214" y="396.7" width="7" height="32.2" fill="#55fafa"/>
<rect x="1223.75" y="406.45" width="5.5" height="21.70" fill="none" stroke="#ff3a3a" stroke-width="1.5"/>
<rect x="1233" y="404.1" width="7" height="24.8" fill="#55fafa"/>
<line x1="4" y1="345" x2="1270" y2="345" stroke="#272b35" stroke-dasharray="1 3"/>
<line x1="4" y1="400.5" x2="1270" y2="400.5" stroke="#272b35" stroke-dasharray="1 3"/>
<polyline points="7.3,419.8 60.0,419.2 150.0,418.8 230.0,418.0 300.0,416.5 379.8,410.5 450.0,408.1 489.9,406.2 529.8,405.4 569.7,404.9 610.0,404.5 679.8,401.8 719.7,400.5 760.0,400.4 789.9,399.6 856.4,399.6 910.0,401.4 953.2,403.4 1060.0,403.5 1129.6,402.1 1169.5,400.7 1209.3,399.3 1236.1,399.3" fill="none" stroke="#e8e000" stroke-width="1.3" stroke-linejoin="round"/>
<polyline points="7.3,420.0 18.3,420.6 28.0,418.2 36.6,419.4 55.0,419.4 64.7,418.0 73.3,419.4 92.8,419.4 102.6,417.6 109.9,419.4 131.9,419.4 140.4,417.6 150.2,417.6 159.3,415.1 168.6,414.5 178.6,408.5 188.6,409.4 196.5,409.8 205.9,411.5 215.8,409.2 225.8,413.8 235.1,413.1 244.4,411.8 255.1,405.8 263.7,408.9 273.7,409.8 283.0,410.5 293.0,399.6 301.6,401.4 309.6,397.2 320.0,393.9 331.3,376.2 339.9,381.2 359.2,381.2 369.2,370.9 379.8,383.2 387.8,385.9 398.4,386.5 407.5,381.2 416.4,391.2 434.3,396.5 445.0,393.9 454.9,402.5 463.3,404.5 474.0,404.9 483.2,401.8 492.6,405.8 508.5,405.2 521.2,401.4 529.8,405.8 549.7,407.2 559.1,404.9 569.7,409.1 588.3,409.8 597.6,406.5 606.6,410.5 623.9,409.8 635.9,405.8 645.9,409.1 655.9,404.9 663.8,401.4 674.5,394.5 685.1,396.5 693.1,395.9 703.7,397.4 711.7,395.9 722.4,403.6 739.6,404.9 750.3,400.1 760.6,405.2 777.9,403.2 788.6,399.6 797.9,405.2 816.5,407.6 826.5,404.5 836.4,408.1 855.1,406.5 865.0,399.6 875.0,404.1 893.6,405.2 903.0,397.8 912.0,403.2 922.0,402.8 931.9,402.2 940.6,396.9 949.9,402.8 970.5,403.6 979.1,397.4 988.4,402.2 1007.7,400.9 1017.0,390.8 1027.7,397.4 1046.3,399.2 1054.9,394.3 1064.9,404.1 1075.9,405.3 1084.8,405.3 1093.4,397.7 1102.8,402.1 1121.7,399.3 1131.6,389.4 1141.2,394.7 1160.5,394.7 1169.5,386.8 1179.0,395.3 1189.4,395.3 1198.3,394.1 1207.3,384.2 1216.8,389.8 1236.1,390.8" fill="none" stroke="#d8d8d8" stroke-width="1.2" stroke-linejoin="round"/>
<rect x="1271" y="345" width="4" height="1" fill="#363b48"/>
<text x="1280.2" y="349.1" font-size="12" fill="#c8c8c8" font-family='"Liberation Sans","Noto Sans CJK SC",sans-serif' textLength="28.0" lengthAdjust="spacingAndGlyphs">60000</text>
<rect x="1271" y="372" width="4" height="1" fill="#363b48"/>
<text x="1280.2" y="376.0" font-size="12" fill="#c8c8c8" font-family='"Liberation Sans","Noto Sans CJK SC",sans-serif' textLength="28.0" lengthAdjust="spacingAndGlyphs">40000</text>
<rect x="1271" y="400" width="4" height="1" fill="#363b48"/>
<text x="1280.2" y="404.3" font-size="12" fill="#c8c8c8" font-family='"Liberation Sans","Noto Sans CJK SC",sans-serif' textLength="28.0" lengthAdjust="spacingAndGlyphs">20000</text>
<rect x="1271.5" y="415.5" width="33" height="13" fill="none" stroke="#3a3f4c"/>
<text x="1274.5" y="425.8" font-size="11.5" fill="#c8c8c8" font-family='"Liberation Sans","Noto Sans CJK SC",sans-serif' textLength="28.0" lengthAdjust="spacingAndGlyphs">X1000</text>
<circle cx="9.3" cy="319.6" r="5" fill="#74777f"/><path d="M6.9,318.5 L9.3,320.90000000000003 L11.7,318.5" fill="none" stroke="#34363d" stroke-width="1.3"/>
<text x="17.7" y="323.4" font-size="10.6" fill="#e4e4e4" font-family='"Liberation Sans","Noto Sans CJK SC",sans-serif' textLength="69.3" lengthAdjust="spacingAndGlyphs">VOL-TDX(5,60)</text>
<text x="92.1" y="323.4" font-size="10.6" fill="#e4e4e4" font-family='"Liberation Sans","Noto Sans CJK SC",sans-serif' textLength="94.0" lengthAdjust="spacingAndGlyphs">VOLUME: 17540460</text>
<path d="M191,323.8 L191,315.0 M189,317.5 L191,314.5 L193,317.5" stroke="#ff3a3a" stroke-width="1.1" fill="none"/>
<text x="199.8" y="323.4" font-size="10.6" fill="#e4e4e4" font-family='"Liberation Sans","Noto Sans CJK SC",sans-serif' textLength="73.3" lengthAdjust="spacingAndGlyphs">MA5: 26852106</text>
<path d="M278,314.5 L278,323.3 M276,320.8 L278,323.8 L280,320.8" stroke="#55fafa" stroke-width="1.1" fill="none"/>
<text x="286.8" y="323.4" font-size="10.6" fill="#e8f000" font-family='"Liberation Sans","Noto Sans CJK SC",sans-serif' textLength="79.3" lengthAdjust="spacingAndGlyphs">MA60: 20634760</text>
<path d="M371,314.5 L371,323.3 M369,320.8 L371,323.8 L373,320.8" stroke="#55fafa" stroke-width="1.1" fill="none"/>
<rect x="3" y="429.6" width="1307" height="0.9" fill="#2a2e38"/>
<line x1="4" y1="458.5" x2="1270" y2="458.5" stroke="#272b35" stroke-dasharray="1 3"/>
<line x1="4" y1="479.5" x2="1270" y2="479.5" stroke="#272b35" stroke-dasharray="1 3"/>
<line x1="4" y1="502.5" x2="1270" y2="502.5" stroke="#272b35" stroke-dasharray="1 3"/>
<line x1="4" y1="523.5" x2="1270" y2="523.5" stroke="#272b35" stroke-dasharray="1 3"/>
<rect x="3" y="460.8" width="1267" height="1.2" fill="#d0753a"/>
<rect x="5.7" y="521.4" width="1.8" height="2.0" fill="#ff3a3a"/>
<rect x="15.7" y="520.2" width="1.8" height="3.2" fill="#ff3a3a"/>
<rect x="24.7" y="518.9" width="1.8" height="4.5" fill="#ff3a3a"/>
<rect x="34.7" y="518.9" width="1.8" height="4.5" fill="#ff3a3a"/>
<rect x="43.7" y="518.9" width="1.8" height="4.5" fill="#ff3a3a"/>
<rect x="53.7" y="518.0" width="1.8" height="5.4" fill="#ff3a3a"/>
<rect x="62.7" y="518.9" width="1.8" height="4.5" fill="#ff3a3a"/>
<rect x="72.7" y="518.9" width="1.8" height="4.5" fill="#ff3a3a"/>
<rect x="81.7" y="520.2" width="1.8" height="3.2" fill="#ff3a3a"/>
<rect x="91.7" y="519.7" width="1.8" height="3.7" fill="#ff3a3a"/>
<rect x="101.7" y="519.7" width="1.8" height="3.7" fill="#ff3a3a"/>
<rect x="110.7" y="518.9" width="1.8" height="4.5" fill="#ff3a3a"/>
<rect x="120.7" y="518.9" width="1.8" height="4.5" fill="#ff3a3a"/>
<rect x="129.7" y="518.9" width="1.8" height="4.5" fill="#ff3a3a"/>
<rect x="139.7" y="518.9" width="1.8" height="4.5" fill="#ff3a3a"/>
<rect x="148.7" y="515.2" width="1.8" height="8.2" fill="#ff3a3a"/>
<rect x="158.7" y="512.1" width="1.8" height="11.3" fill="#ff3a3a"/>
<rect x="167.7" y="509.6" width="1.8" height="13.8" fill="#ff3a3a"/>
<rect x="177.7" y="505.1" width="1.8" height="18.3" fill="#ff3a3a"/>
<rect x="186.7" y="505.1" width="1.8" height="18.3" fill="#ff3a3a"/>
<rect x="196.7" y="506.3" width="1.8" height="17.1" fill="#ff3a3a"/>
<rect x="205.7" y="508.8" width="1.8" height="14.6" fill="#ff3a3a"/>
<rect x="215.7" y="509.0" width="1.8" height="14.4" fill="#ff3a3a"/>
<rect x="224.7" y="511.1" width="1.8" height="12.3" fill="#ff3a3a"/>
<rect x="234.7" y="510.2" width="1.8" height="13.2" fill="#ff3a3a"/>
<rect x="244.7" y="509.0" width="1.8" height="14.4" fill="#ff3a3a"/>
<rect x="253.7" y="507.2" width="1.8" height="16.2" fill="#ff3a3a"/>
<rect x="263.7" y="506.2" width="1.8" height="17.2" fill="#ff3a3a"/>
<rect x="272.7" y="505.5" width="1.8" height="17.9" fill="#ff3a3a"/>
<rect x="282.7" y="506.2" width="1.8" height="17.2" fill="#ff3a3a"/>
<rect x="291.7" y="500.7" width="1.8" height="22.7" fill="#ff3a3a"/>
<rect x="301.7" y="496.3" width="1.8" height="27.1" fill="#ff3a3a"/>
<rect x="310.7" y="491.6" width="1.8" height="31.8" fill="#ff3a3a"/>
<rect x="320.7" y="491.6" width="1.8" height="31.8" fill="#ff3a3a"/>
<rect x="329.7" y="485.4" width="1.8" height="38.0" fill="#ff3a3a"/>
<rect x="339.7" y="483.3" width="1.8" height="40.1" fill="#ff3a3a"/>
<rect x="348.7" y="488.2" width="1.8" height="35.2" fill="#ff3a3a"/>
<rect x="358.7" y="491.6" width="1.8" height="31.8" fill="#ff3a3a"/>
<rect x="367.7" y="504.1" width="1.8" height="19.3" fill="#ff3a3a"/>
<rect x="377.7" y="517.1" width="1.8" height="6.3" fill="#ff3a3a"/>
<rect x="387.8" y="523.4" width="1.5" height="1.2" fill="#4ee6ee"/>
<rect x="396.8" y="523.4" width="1.5" height="11.9" fill="#4ee6ee"/>
<rect x="406.8" y="523.4" width="1.5" height="17.5" fill="#4ee6ee"/>
<rect x="415.8" y="523.4" width="1.5" height="12.8" fill="#4ee6ee"/>
<rect x="425.8" y="523.4" width="1.5" height="18.5" fill="#4ee6ee"/>
<rect x="434.8" y="523.4" width="1.5" height="20.9" fill="#4ee6ee"/>
<rect x="444.8" y="523.4" width="1.5" height="24.9" fill="#4ee6ee"/>
<rect x="453.8" y="523.4" width="1.5" height="27.2" fill="#4ee6ee"/>
<rect x="463.8" y="523.4" width="1.5" height="30.1" fill="#4ee6ee"/>
<rect x="472.8" y="523.4" width="1.5" height="31.0" fill="#4ee6ee"/>
<rect x="482.8" y="523.4" width="1.5" height="31.0" fill="#4ee6ee"/>
<rect x="491.8" y="523.4" width="1.5" height="26.6" fill="#4ee6ee"/>
<rect x="501.8" y="523.4" width="1.5" height="23.7" fill="#4ee6ee"/>
<rect x="510.8" y="523.4" width="1.5" height="20.2" fill="#4ee6ee"/>
<rect x="520.8" y="523.4" width="1.5" height="17.5" fill="#4ee6ee"/>
<rect x="530.8" y="523.4" width="1.5" height="16.3" fill="#4ee6ee"/>
<rect x="539.8" y="523.4" width="1.5" height="16.8" fill="#4ee6ee"/>
<rect x="549.8" y="523.4" width="1.5" height="18.9" fill="#4ee6ee"/>
<rect x="558.8" y="523.4" width="1.5" height="20.2" fill="#4ee6ee"/>
<rect x="568.8" y="523.4" width="1.5" height="18.5" fill="#4ee6ee"/>
<rect x="577.8" y="523.4" width="1.5" height="17.1" fill="#4ee6ee"/>
<rect x="587.8" y="523.4" width="1.5" height="15.7" fill="#4ee6ee"/>
<rect x="596.8" y="523.4" width="1.5" height="14.5" fill="#4ee6ee"/>
<rect x="606.8" y="523.4" width="1.5" height="12.8" fill="#4ee6ee"/>
<rect x="615.8" y="523.4" width="1.5" height="11.6" fill="#4ee6ee"/>
<rect x="625.8" y="523.4" width="1.5" height="11.6" fill="#4ee6ee"/>
<rect x="634.8" y="523.4" width="1.5" height="12.0" fill="#4ee6ee"/>
<rect x="644.8" y="523.4" width="1.5" height="10.4" fill="#4ee6ee"/>
<rect x="653.8" y="523.4" width="1.5" height="4.5" fill="#4ee6ee"/>
<rect x="663.7" y="522.6" width="1.8" height="0.8" fill="#ff3a3a"/>
<rect x="672.7" y="519.5" width="1.8" height="3.9" fill="#ff3a3a"/>
<rect x="682.7" y="517.8" width="1.8" height="5.6" fill="#ff3a3a"/>
<rect x="692.7" y="517.8" width="1.8" height="5.6" fill="#ff3a3a"/>
<rect x="701.7" y="517.8" width="1.8" height="5.6" fill="#ff3a3a"/>
<rect x="711.7" y="517.8" width="1.8" height="5.6" fill="#ff3a3a"/>
<rect x="720.7" y="517.8" width="1.8" height="5.6" fill="#ff3a3a"/>
<rect x="730.7" y="518.7" width="1.8" height="4.7" fill="#ff3a3a"/>
<rect x="739.7" y="518.3" width="1.8" height="5.1" fill="#ff3a3a"/>
<rect x="749.7" y="518.3" width="1.8" height="5.1" fill="#ff3a3a"/>
<rect x="758.7" y="517.8" width="1.8" height="5.6" fill="#ff3a3a"/>
<rect x="768.7" y="517.8" width="1.8" height="5.6" fill="#ff3a3a"/>
<rect x="777.7" y="518.7" width="1.8" height="4.7" fill="#ff3a3a"/>
<rect x="787.7" y="521.2" width="1.8" height="2.2" fill="#ff3a3a"/>
<rect x="796.7" y="522.0" width="1.8" height="1.4" fill="#ff3a3a"/>
<rect x="806.8" y="523.4" width="1.5" height="2.3" fill="#4ee6ee"/>
<rect x="815.8" y="523.4" width="1.5" height="2.8" fill="#4ee6ee"/>
<rect x="825.8" y="523.4" width="1.5" height="2.8" fill="#4ee6ee"/>
<rect x="835.8" y="523.4" width="1.5" height="2.0" fill="#4ee6ee"/>
<rect x="844.8" y="523.4" width="1.5" height="1.1" fill="#4ee6ee"/>
<rect x="854.8" y="523.4" width="1.5" height="1.1" fill="#4ee6ee"/>
<rect x="863.8" y="523.4" width="1.5" height="1.1" fill="#4ee6ee"/>
<rect x="873.8" y="523.4" width="1.5" height="1.1" fill="#4ee6ee"/>
<rect x="882.8" y="523.4" width="1.5" height="1.1" fill="#4ee6ee"/>
<rect x="892.7" y="522.5" width="1.8" height="0.9" fill="#ff3a3a"/>
<rect x="901.7" y="522.5" width="1.8" height="0.9" fill="#ff3a3a"/>
<rect x="911.8" y="523.4" width="1.5" height="2.0" fill="#4ee6ee"/>
<rect x="920.8" y="523.4" width="1.5" height="2.8" fill="#4ee6ee"/>
<rect x="930.8" y="523.4" width="1.5" height="3.6" fill="#4ee6ee"/>
<rect x="939.8" y="523.4" width="1.5" height="5.7" fill="#4ee6ee"/>
<rect x="949.8" y="523.4" width="1.5" height="7.0" fill="#4ee6ee"/>
<rect x="958.8" y="523.4" width="1.5" height="7.8" fill="#4ee6ee"/>
<rect x="968.8" y="523.4" width="1.5" height="7.8" fill="#4ee6ee"/>
<rect x="978.8" y="523.4" width="1.5" height="6.2" fill="#4ee6ee"/>
<rect x="987.8" y="523.4" width="1.5" height="5.3" fill="#4ee6ee"/>
<rect x="997.8" y="523.4" width="1.5" height="4.5" fill="#4ee6ee"/>
<rect x="1006.8" y="523.4" width="1.5" height="3.6" fill="#4ee6ee"/>
<rect x="1016.8" y="523.4" width="1.5" height="2.8" fill="#4ee6ee"/>
<rect x="1025.8" y="523.4" width="1.5" height="1.1" fill="#4ee6ee"/>
<rect x="1035.8" y="523.4" width="1.5" height="1.1" fill="#4ee6ee"/>
<rect x="1044.8" y="523.4" width="1.5" height="1.1" fill="#4ee6ee"/>
<rect x="1054.8" y="523.4" width="1.5" height="1.1" fill="#4ee6ee"/>
<rect x="1063.8" y="523.4" width="1.5" height="1.1" fill="#4ee6ee"/>
<rect x="1073.7" y="522.5" width="1.8" height="0.9" fill="#ff3a3a"/>
<rect x="1082.7" y="521.6" width="1.8" height="1.8" fill="#ff3a3a"/>
<rect x="1092.7" y="518.6" width="1.8" height="4.8" fill="#ff3a3a"/>
<rect x="1101.7" y="515.6" width="1.8" height="7.8" fill="#ff3a3a"/>
<rect x="1111.7" y="514.6" width="1.8" height="8.8" fill="#ff3a3a"/>
<rect x="1121.7" y="512.6" width="1.8" height="10.8" fill="#ff3a3a"/>
<rect x="1130.7" y="512.0" width="1.8" height="11.4" fill="#ff3a3a"/>
<rect x="1140.7" y="513.2" width="1.8" height="10.2" fill="#ff3a3a"/>
<rect x="1149.7" y="514.0" width="1.8" height="9.4" fill="#ff3a3a"/>
<rect x="1159.7" y="515.2" width="1.8" height="8.2" fill="#ff3a3a"/>
<rect x="1168.7" y="516.6" width="1.8" height="6.8" fill="#ff3a3a"/>
<rect x="1178.7" y="516.6" width="1.8" height="6.8" fill="#ff3a3a"/>
<rect x="1187.7" y="515.6" width="1.8" height="7.8" fill="#ff3a3a"/>
<rect x="1197.7" y="514.6" width="1.8" height="8.8" fill="#ff3a3a"/>
<rect x="1206.7" y="512.6" width="1.8" height="10.8" fill="#ff3a3a"/>
<rect x="1216.7" y="515.2" width="1.8" height="8.2" fill="#ff3a3a"/>
<rect x="1225.7" y="515.6" width="1.8" height="7.8" fill="#ff3a3a"/>
<rect x="1235.7" y="518.6" width="1.8" height="4.8" fill="#ff3a3a"/>
<polyline points="7.0,531.4 42.0,529.8 83.9,527.2 117.5,525.6 147.7,523.9 159.4,522.2 177.9,518.5 198.0,512.1 220.0,508.8 244.7,505.5 284.5,495.8 305.4,488.5 331.4,476.4 359.1,463.4 376.4,460.5 393.8,461.7 411.1,465.6 420.0,466.9 446.0,476.4 472.0,485.4 501.5,495.1 532.7,502.0 558.7,508.5 579.5,513.1 610.7,518.9 630.0,520.3 645.1,523.4 663.6,523.7 697.1,520.3 730.7,519.0 764.3,517.0 797.8,515.3 850.0,516.1 907.1,516.6 923.9,517.3 957.5,519.5 991.0,521.7 1017.9,522.9 1050.0,523.6 1089.8,522.0 1129.6,516.6 1149.5,514.0 1199.3,510.0 1209.3,508.7 1236.1,506.7" fill="none" stroke="#e8e000" stroke-width="1.3" stroke-linejoin="round"/>
<polyline points="7.0,530.6 25.2,528.9 50.3,526.4 75.5,525.9 100.7,525.6 117.5,523.1 130.9,522.6 139.3,521.9 151.0,518.9 161.1,515.8 169.5,512.5 177.9,509.1 186.3,505.4 201.4,504.6 227.3,502.0 253.3,495.8 265.5,492.0 279.3,488.9 286.3,486.4 305.4,474.7 321.0,466.3 331.4,457.3 340.0,452.5 350.4,450.4 359.1,447.8 376.4,457.3 386.8,460.8 405.9,472.1 420.0,475.5 437.3,481.6 454.7,491.1 484.1,504.5 510.2,506.7 532.7,510.2 560.4,518.0 586.4,522.3 610.7,524.6 630.0,527.0 645.1,527.9 660.2,523.7 673.6,520.3 688.7,519.0 710.5,517.3 724.0,516.1 747.5,515.6 772.6,514.5 797.8,515.3 823.0,517.3 840.0,516.6 865.2,517.3 890.3,517.3 913.8,517.0 923.9,518.7 940.7,520.3 957.5,523.4 974.2,524.0 1007.8,524.0 1021.2,523.7 1060.0,523.4 1079.9,522.6 1089.8,519.6 1109.7,515.6 1129.6,512.6 1149.5,509.7 1179.4,509.7 1189.4,507.7 1207.3,504.1 1236.1,504.1" fill="none" stroke="#d8d8d8" stroke-width="1.2" stroke-linejoin="round"/>
<rect x="1271" y="458" width="4" height="1" fill="#363b48"/>
<text x="1283.1" y="461.7" font-size="12" fill="#c8c8c8" font-family='"Liberation Sans","Noto Sans CJK SC",sans-serif' textLength="25.1" lengthAdjust="spacingAndGlyphs">150.0</text>
<rect x="1271" y="479" width="4" height="1" fill="#363b48"/>
<text x="1283.1" y="483.6" font-size="12" fill="#c8c8c8" font-family='"Liberation Sans","Noto Sans CJK SC",sans-serif' textLength="25.1" lengthAdjust="spacingAndGlyphs">100.0</text>
<rect x="1271" y="502" width="4" height="1" fill="#363b48"/>
<text x="1283.1" y="505.9" font-size="12" fill="#c8c8c8" font-family='"Liberation Sans","Noto Sans CJK SC",sans-serif' textLength="25.1" lengthAdjust="spacingAndGlyphs">50.00</text>
<rect x="1271" y="523" width="4" height="1" fill="#363b48"/>
<text x="1288.7" y="527.4" font-size="12" fill="#c8c8c8" font-family='"Liberation Sans","Noto Sans CJK SC",sans-serif' textLength="19.5" lengthAdjust="spacingAndGlyphs">0.00</text>
<circle cx="9.3" cy="437" r="5" fill="#5c5e66"/><path d="M6.9,435.9 L9.3,438.3 L11.7,435.9" fill="none" stroke="#34363d" stroke-width="1.3"/>
<text x="18.3" y="440.2" font-size="10.6" fill="#c8c8c8" font-family='"Liberation Sans","Noto Sans CJK SC",sans-serif' textLength="70.5" lengthAdjust="spacingAndGlyphs">MACD(12,26,9)</text>
<text x="93.4" y="440.2" font-size="10.6" fill="#c8c8c8" font-family='"Liberation Sans","Noto Sans CJK SC",sans-serif' textLength="46.2" lengthAdjust="spacingAndGlyphs">DIF: 43.22</text>
<path d="M144.3,432.3 L144.3,441.5 M142.3,439 L144.3,442 L146.3,439" stroke="#55fafa" stroke-width="1.1" fill="none"/>
<text x="153.8" y="440.2" font-size="10.6" fill="#e8e000" font-family='"Liberation Sans","Noto Sans CJK SC",sans-serif' textLength="49.5" lengthAdjust="spacingAndGlyphs">DEA: 37.88</text>
<path d="M208.5,442 L208.5,433.1 M206.5,435.6 L208.5,432.6 L210.5,435.6" stroke="#ff3a3a" stroke-width="1.1" fill="none"/>
<text x="217.2" y="440.2" font-size="10.6" fill="#e030e0" font-family='"Liberation Sans","Noto Sans CJK SC",sans-serif' textLength="60.8" lengthAdjust="spacingAndGlyphs">MACD: 10.68</text>
<path d="M282.7,432.3 L282.7,441.5 M280.7,439 L282.7,442 L284.7,439" stroke="#55fafa" stroke-width="1.1" fill="none"/>
<text x="114.5" y="549.0" font-size="12" fill="#d0753a" font-family='"Liberation Sans","Noto Sans CJK SC",sans-serif' textLength="281.8" lengthAdjust="spacingAndGlyphs">10月8日最后一个小时收盘指数3489.78点时的指标位置</text>
<line x1="282" y1="532.7" x2="358" y2="450.8" stroke="#d0753a" stroke-width="1.2"/>
<path d="M350.5,452.5 L358.5,450.2 L356.5,458.5" fill="none" stroke="#d0753a" stroke-width="1.2"/>
<text x="936.5" y="491.6" font-size="12" fill="#d0753a" font-family='"Liberation Sans","Noto Sans CJK SC",sans-serif' textLength="268.8" lengthAdjust="spacingAndGlyphs">周五第一个小时的收盘指数34880.06点时的指标位置</text>
<line x1="1197.3" y1="494.7" x2="1207" y2="502.5" stroke="#d0753a" stroke-width="1.2"/>
<path d="M1200.5,502.8 L1207.5,502.9 L1206,496" fill="none" stroke="#d0753a" stroke-width="1.2"/>
<rect x="3" y="555.8" width="1308" height="1" fill="#2e323d"/>
<line x1="4" y1="628.5" x2="1270" y2="628.5" stroke="#272b35" stroke-dasharray="1 3"/>
<line x1="4" y1="663.5" x2="1270" y2="663.5" stroke="#272b35" stroke-dasharray="1 3"/>
<rect x="3" y="577.4" width="1267" height="1.2" fill="#d0753a"/>
<rect x="3" y="592.9" width="1267" height="1.2" fill="#d0753a"/>
<polyline points="7.0,660.6 16.4,652.6 25.2,640.0 35.2,628.0 45.3,619.9 55.4,612.3 64.9,607.8 74.3,606.8 83.1,607.3 93.1,606.1 103.2,602.8 112.0,599.3 123.3,597.3 138.4,597.3 148.5,594.2 158.6,591.0 168.6,586.7 178.7,583.4 186.3,582.7 196.3,585.2 206.3,587.7 218.9,589.2 228.8,589.2 239.1,586.7 246.7,584.7 264.3,582.7 274.3,580.9 284.4,578.4 302.0,577.6 314.6,577.1 320.0,575.8 330.1,579.6 340.1,583.9 350.2,588.9 359.8,593.2 369.1,600.3 379.1,610.3 388.0,620.4 396.8,633.0 406.8,642.5 416.9,645.5 425.7,646.8 434.5,648.6 444.6,651.1 453.4,654.3 463.5,658.1 473.5,662.6 483.6,666.2 492.4,664.4 502.5,659.4 512.5,652.6 521.4,643.0 531.4,633.5 540.2,629.2 549.1,631.7 559.1,638.0 569.2,641.0 579.2,644.3 589.3,646.8 598.1,647.5 606.9,647.5 617.0,647.5 627.1,651.1 635.9,653.6 644.7,653.1 655.1,643.0 665.2,635.5 675.2,626.7 685.3,618.4 695.4,614.1 705.4,610.3 715.5,606.5 724.3,604.0 734.4,604.8 743.2,605.3 753.3,602.3 763.3,599.0 772.1,597.7 782.2,601.5 791.0,605.8 799.8,611.6 807.4,620.4 817.4,627.9 826.3,634.2 837.6,635.5 846.4,633.0 856.5,630.4 865.3,625.9 875.3,621.6 884.1,616.6 894.2,609.1 903.0,604.8 913.1,607.8 923.2,614.1 933.2,624.2 942.0,635.5 952.1,645.5 960.9,654.3 970.1,656.9 980.1,658.1 990.2,656.1 999.0,652.6 1009.1,646.0 1019.1,635.5 1028.0,625.9 1036.8,618.4 1046.8,617.4 1056.9,616.6 1065.7,615.8 1074.5,614.8 1084.6,609.1 1094.7,603.3 1104.7,597.7 1113.5,592.7 1123.6,587.2 1133.7,584.7 1142.5,584.7 1151.3,585.7 1161.4,588.2 1170.2,589.7 1180.2,588.2 1189.0,586.4 1199.1,584.7 1209.2,583.9 1218.0,585.7 1226.8,588.9 1236.4,593.2" fill="none" stroke="#e8e000" stroke-width="1.3" stroke-linejoin="round"/>
<polyline points="7.0,647.5 16.4,633.7 26.4,611.8 36.5,607.8 45.3,605.3 54.1,602.3 64.9,599.3 74.3,602.3 83.1,609.8 91.9,606.1 101.9,596.8 110.7,591.7 120.8,596.0 130.9,597.8 139.7,596.8 149.8,588.5 159.8,583.4 168.6,578.7 178.7,578.1 188.8,583.4 198.8,588.5 207.7,592.7 216.5,589.7 225.3,591.7 235.3,584.7 244.1,579.7 254.2,584.7 264.3,580.9 273.1,578.4 283.2,575.9 293.2,578.4 302.0,577.6 312.1,574.6 319.7,575.1 330.1,585.2 340.1,590.7 350.2,598.2 359.8,601.5 369.1,615.3 379.1,631.7 388.0,640.5 396.8,655.1 406.8,661.1 416.9,654.3 425.7,651.1 434.5,651.8 444.6,659.4 453.4,663.1 463.5,670.7 473.5,669.4 483.6,671.2 492.4,661.9 502.5,651.8 512.5,638.5 521.4,624.2 531.4,615.8 540.2,620.4 549.1,636.7 559.1,649.3 569.2,647.5 579.2,649.3 589.3,650.1 598.1,649.3 606.9,648.1 617.0,647.5 627.1,660.1 635.9,658.1 645.0,650.6 655.1,624.2 665.2,619.1 674.0,611.6 684.0,602.8 692.9,605.3 701.7,604.8 711.7,600.8 721.8,598.2 730.6,603.3 740.7,607.3 750.7,598.2 760.8,592.2 769.6,594.0 779.7,601.5 789.8,614.1 798.6,622.9 807.4,639.2 817.4,646.8 826.3,646.0 836.3,635.5 846.4,630.4 856.5,625.4 865.3,618.4 875.3,612.3 884.1,607.3 894.2,594.0 903.0,595.7 913.1,614.1 923.2,630.9 933.2,644.3 942.0,655.1 952.1,665.7 960.0,669.4 970.1,665.7 980.1,659.4 990.2,651.8 1000.3,642.5 1010.3,631.7 1019.1,619.1 1027.5,604.8 1035.5,605.8 1045.6,615.8 1055.6,615.8 1065.2,613.3 1074.5,612.8 1084.6,599.0 1094.7,592.2 1103.5,586.4 1113.5,582.6 1123.1,578.9 1132.4,579.6 1141.2,583.1 1151.3,586.4 1161.4,591.4 1170.2,592.7 1179.0,588.2 1189.0,582.6 1198.6,578.9 1207.9,582.1 1218.0,592.2 1226.8,596.5 1236.4,602.3" fill="none" stroke="#d8d8d8" stroke-width="1.2" stroke-linejoin="round"/>
<rect x="1271" y="593" width="4" height="1" fill="#363b48"/>
<text x="1283.1" y="597.4" font-size="12" fill="#c8c8c8" font-family='"Liberation Sans","Noto Sans CJK SC",sans-serif' textLength="25.1" lengthAdjust="spacingAndGlyphs">80.00</text>
<rect x="1271" y="628" width="4" height="1" fill="#363b48"/>
<text x="1283.1" y="632.2" font-size="12" fill="#c8c8c8" font-family='"Liberation Sans","Noto Sans CJK SC",sans-serif' textLength="25.1" lengthAdjust="spacingAndGlyphs">50.00</text>
<rect x="1271" y="662" width="4" height="1" fill="#363b48"/>
<text x="1283.1" y="666.4" font-size="12" fill="#c8c8c8" font-family='"Liberation Sans","Noto Sans CJK SC",sans-serif' textLength="25.1" lengthAdjust="spacingAndGlyphs">20.00</text>
<circle cx="9.3" cy="563.3" r="5" fill="#5c5e66"/><path d="M6.9,562.1999999999999 L9.3,564.5999999999999 L11.7,562.1999999999999" fill="none" stroke="#34363d" stroke-width="1.3"/>
<text x="18.1" y="567.0" font-size="10.6" fill="#c8c8c8" font-family='"Liberation Sans","Noto Sans CJK SC",sans-serif' textLength="42.3" lengthAdjust="spacingAndGlyphs">KD(9,3,3)</text>
<text x="64.9" y="567.0" font-size="10.6" fill="#c8c8c8" font-family='"Liberation Sans","Noto Sans CJK SC",sans-serif' textLength="37.1" lengthAdjust="spacingAndGlyphs">K: 72.86</text>
<path d="M106.2,558.7 L106.2,568.0 M104.2,565.5 L106.2,568.5 L108.2,565.5" stroke="#55fafa" stroke-width="1.1" fill="none"/>
<text x="115.3" y="567.0" font-size="10.6" fill="#e8e000" font-family='"Liberation Sans","Noto Sans CJK SC",sans-serif' textLength="37.7" lengthAdjust="spacingAndGlyphs">D: 79.95</text>
<path d="M157.3,558.7 L157.3,568.0 M155.3,565.5 L157.3,568.5 L159.3,565.5" stroke="#55fafa" stroke-width="1.1" fill="none"/>
<text x="1128.1" y="632.0" font-size="12" fill="#e0dc00" font-family='"Liberation Sans","Noto Sans CJK SC",sans-serif' textLength="68.5" lengthAdjust="spacingAndGlyphs">指标M头形态</text>
<text x="1094.7" y="650.0" font-size="12" fill="#e0dc00" font-family='"Liberation Sans","Noto Sans CJK SC",sans-serif' textLength="149.2" lengthAdjust="spacingAndGlyphs">指数创新高，指标没有创新高</text>
<line x1="1150" y1="620.4" x2="1121.5" y2="582.5" stroke="#e0dc00" stroke-width="1.2"/>
<path d="M1120.5,589.5 L1121.2,582 L1127.5,585.5" fill="none" stroke="#e0dc00" stroke-width="1.2"/>
<line x1="1178.5" y1="617.4" x2="1197.5" y2="584.5" stroke="#e0dc00" stroke-width="1.2"/>
<path d="M1191.5,587.5 L1197.8,584 L1197.5,591" fill="none" stroke="#e0dc00" stroke-width="1.2"/>
<rect x="3" y="673" width="1307" height="1" fill="#2e323d"/>
<text x="6.9" y="683.8" font-size="11" fill="#c8c8c8" font-family='"Liberation Sans","Noto Sans CJK SC",sans-serif' textLength="42.7" lengthAdjust="spacingAndGlyphs">09月18日</text>
<rect x="63" y="673" width="1" height="13.5" fill="#2e323d"/>
<text x="64.5" y="683.8" font-size="10.2" fill="#c8c8c8" font-family='"Liberation Sans","Noto Sans CJK SC",sans-serif' textLength="24.6" lengthAdjust="spacingAndGlyphs">10:30</text>
<rect x="92" y="674" width="1" height="2" fill="#2e323d"/>
<rect x="106" y="674" width="1" height="2" fill="#2e323d"/>
<rect x="120" y="673" width="1" height="13.5" fill="#2e323d"/>
<text x="121.7" y="683.8" font-size="10.2" fill="#c8c8c8" font-family='"Liberation Sans","Noto Sans CJK SC",sans-serif' textLength="24.6" lengthAdjust="spacingAndGlyphs">14:00</text>
<rect x="149" y="674" width="1" height="2" fill="#2e323d"/>
<rect x="163" y="674" width="1" height="2" fill="#2e323d"/>
<rect x="177" y="673" width="1" height="13.5" fill="#2e323d"/>
<text x="178.9" y="683.8" font-size="10.2" fill="#c8c8c8" font-family='"Liberation Sans","Noto Sans CJK SC",sans-serif' textLength="24.6" lengthAdjust="spacingAndGlyphs">10:30</text>
<rect x="206" y="674" width="1" height="2" fill="#2e323d"/>
<rect x="220" y="674" width="1" height="2" fill="#2e323d"/>
<rect x="235" y="673" width="1" height="13.5" fill="#2e323d"/>
<text x="236.1" y="683.8" font-size="10.2" fill="#c8c8c8" font-family='"Liberation Sans","Noto Sans CJK SC",sans-serif' textLength="24.6" lengthAdjust="spacingAndGlyphs">14:00</text>
<rect x="263" y="674" width="1" height="2" fill="#2e323d"/>
<rect x="277" y="674" width="1" height="2" fill="#2e323d"/>
<rect x="292" y="673" width="1" height="13.5" fill="#2e323d"/>
<text x="293.3" y="683.8" font-size="10.2" fill="#c8c8c8" font-family='"Liberation Sans","Noto Sans CJK SC",sans-serif' textLength="24.6" lengthAdjust="spacingAndGlyphs">10:30</text>
<rect x="320" y="674" width="1" height="2" fill="#2e323d"/>
<rect x="335" y="674" width="1" height="2" fill="#2e323d"/>
<rect x="349" y="673" width="1" height="13.5" fill="#2e323d"/>
<text x="350.5" y="683.8" font-size="10.2" fill="#c8c8c8" font-family='"Liberation Sans","Noto Sans CJK SC",sans-serif' textLength="24.6" lengthAdjust="spacingAndGlyphs">14:00</text>
<rect x="377" y="674" width="1" height="2" fill="#2e323d"/>
<rect x="392" y="674" width="1" height="2" fill="#2e323d"/>
<rect x="406" y="673" width="1" height="13.5" fill="#2e323d"/>
<text x="407.7" y="683.8" font-size="10.2" fill="#c8c8c8" font-family='"Liberation Sans","Noto Sans CJK SC",sans-serif' textLength="24.6" lengthAdjust="spacingAndGlyphs">10:30</text>
<rect x="435" y="674" width="1" height="2" fill="#2e323d"/>
<rect x="449" y="674" width="1" height="2" fill="#2e323d"/>
<rect x="463" y="673" width="1" height="13.5" fill="#2e323d"/>
<text x="464.9" y="683.8" font-size="10.2" fill="#c8c8c8" font-family='"Liberation Sans","Noto Sans CJK SC",sans-serif' textLength="24.6" lengthAdjust="spacingAndGlyphs">14:00</text>
<rect x="492" y="674" width="1" height="2" fill="#2e323d"/>
<rect x="506" y="674" width="1" height="2" fill="#2e323d"/>
<rect x="520" y="673" width="1" height="13.5" fill="#2e323d"/>
<text x="522.1" y="683.8" font-size="10.2" fill="#c8c8c8" font-family='"Liberation Sans","Noto Sans CJK SC",sans-serif' textLength="24.6" lengthAdjust="spacingAndGlyphs">10:30</text>
<rect x="549" y="674" width="1" height="2" fill="#2e323d"/>
<rect x="563" y="674" width="1" height="2" fill="#2e323d"/>
<rect x="578" y="673" width="1" height="13.5" fill="#2e323d"/>
<text x="579.3" y="683.8" font-size="10.2" fill="#c8c8c8" font-family='"Liberation Sans","Noto Sans CJK SC",sans-serif' textLength="24.6" lengthAdjust="spacingAndGlyphs">14:00</text>
<rect x="606" y="674" width="1" height="2" fill="#2e323d"/>
<rect x="621" y="674" width="1" height="2" fill="#2e323d"/>
<rect x="635" y="673" width="1" height="13.5" fill="#2e323d"/>
<text x="636.5" y="683.8" font-size="10.2" fill="#c8c8c8" font-family='"Liberation Sans","Noto Sans CJK SC",sans-serif' textLength="24.6" lengthAdjust="spacingAndGlyphs">10:30</text>
<rect x="663" y="674" width="1" height="2" fill="#2e323d"/>
<rect x="678" y="674" width="1" height="2" fill="#2e323d"/>
<rect x="692" y="673" width="1" height="13.5" fill="#2e323d"/>
<text x="693.7" y="683.8" font-size="10.2" fill="#c8c8c8" font-family='"Liberation Sans","Noto Sans CJK SC",sans-serif' textLength="24.6" lengthAdjust="spacingAndGlyphs">14:00</text>
<rect x="721" y="674" width="1" height="2" fill="#2e323d"/>
<rect x="735" y="674" width="1" height="2" fill="#2e323d"/>
<rect x="749" y="673" width="1" height="13.5" fill="#2e323d"/>
<text x="750.9" y="683.8" font-size="10.2" fill="#c8c8c8" font-family='"Liberation Sans","Noto Sans CJK SC",sans-serif' textLength="24.6" lengthAdjust="spacingAndGlyphs">10:30</text>
<rect x="778" y="674" width="1" height="2" fill="#2e323d"/>
<rect x="792" y="674" width="1" height="2" fill="#2e323d"/>
<rect x="806" y="673" width="1" height="13.5" fill="#2e323d"/>
<text x="808.1" y="683.8" font-size="10.2" fill="#c8c8c8" font-family='"Liberation Sans","Noto Sans CJK SC",sans-serif' textLength="24.6" lengthAdjust="spacingAndGlyphs">14:00</text>
<rect x="835" y="674" width="1" height="2" fill="#2e323d"/>
<rect x="849" y="674" width="1" height="2" fill="#2e323d"/>
<rect x="864" y="673" width="1" height="13.5" fill="#2e323d"/>
<text x="865.2" y="683.8" font-size="10.2" fill="#c8c8c8" font-family='"Liberation Sans","Noto Sans CJK SC",sans-serif' textLength="24.6" lengthAdjust="spacingAndGlyphs">10:30</text>
<rect x="892" y="674" width="1" height="2" fill="#2e323d"/>
<rect x="907" y="674" width="1" height="2" fill="#2e323d"/>
<rect x="921" y="673" width="1" height="13.5" fill="#2e323d"/>
<text x="922.4" y="683.8" font-size="10.2" fill="#c8c8c8" font-family='"Liberation Sans","Noto Sans CJK SC",sans-serif' textLength="24.6" lengthAdjust="spacingAndGlyphs">14:00</text>
<rect x="949" y="674" width="1" height="2" fill="#2e323d"/>
<rect x="964" y="674" width="1" height="2" fill="#2e323d"/>
<rect x="978" y="673" width="1" height="13.5" fill="#2e323d"/>
<text x="979.6" y="683.8" font-size="10.2" fill="#c8c8c8" font-family='"Liberation Sans","Noto Sans CJK SC",sans-serif' textLength="24.6" lengthAdjust="spacingAndGlyphs">10:30</text>
<rect x="1007" y="674" width="1" height="2" fill="#2e323d"/>
<rect x="1021" y="674" width="1" height="2" fill="#2e323d"/>
<rect x="1035" y="673" width="1" height="13.5" fill="#2e323d"/>
<text x="1036.8" y="683.8" font-size="10.2" fill="#c8c8c8" font-family='"Liberation Sans","Noto Sans CJK SC",sans-serif' textLength="24.6" lengthAdjust="spacingAndGlyphs">14:00</text>
<rect x="1064" y="674" width="1" height="2" fill="#2e323d"/>
<rect x="1078" y="674" width="1" height="2" fill="#2e323d"/>
<rect x="1092" y="673" width="1" height="13.5" fill="#2e323d"/>
<text x="1094.0" y="683.8" font-size="10.2" fill="#c8c8c8" font-family='"Liberation Sans","Noto Sans CJK SC",sans-serif' textLength="24.6" lengthAdjust="spacingAndGlyphs">10:30</text>
<rect x="1121" y="674" width="1" height="2" fill="#2e323d"/>
<rect x="1135" y="674" width="1" height="2" fill="#2e323d"/>
<rect x="1150" y="673" width="1" height="13.5" fill="#2e323d"/>
<text x="1151.2" y="683.8" font-size="10.2" fill="#c8c8c8" font-family='"Liberation Sans","Noto Sans CJK SC",sans-serif' textLength="24.6" lengthAdjust="spacingAndGlyphs">14:00</text>
<rect x="1178" y="674" width="1" height="2" fill="#2e323d"/>
<rect x="1193" y="674" width="1" height="2" fill="#2e323d"/>
<rect x="1207" y="673" width="1" height="13.5" fill="#2e323d"/>
<text x="1208.4" y="683.8" font-size="10.2" fill="#c8c8c8" font-family='"Liberation Sans","Noto Sans CJK SC",sans-serif' textLength="24.6" lengthAdjust="spacingAndGlyphs">10:30</text>
<rect x="1235" y="674" width="1" height="2" fill="#2e323d"/>
<rect x="1250" y="674" width="1" height="2" fill="#2e323d"/>
<rect x="34" y="674" width="1" height="2" fill="#2e323d"/>
<rect x="49" y="674" width="1" height="2" fill="#2e323d"/>
<rect x="1270" y="674" width="40" height="13" fill="#1c1f27"/>
<rect x="1270" y="673" width="1" height="14" fill="#363b48"/>
<text x="1275.5" y="684.5" font-size="11.5" fill="#e6e6e6" font-family='"Liberation Sans","Noto Sans CJK SC",sans-serif' textLength="31.5" lengthAdjust="spacingAndGlyphs">60分钟</text>
<rect x="0" y="686.8" width="1311" height="4" fill="#15171d"/>
<rect x="4.8" y="686.8" width="33.6" height="4.1" fill="#2b2e3b"/>
<rect x="39.4" y="686.8" width="24.200000000000003" height="4.1" fill="#2b2e3b"/>
<rect x="64.6" y="686.8" width="36.1" height="4.1" fill="#2b2e3b"/>
<rect x="101.7" y="686.8" width="25.299999999999997" height="4.1" fill="#2b2e3b"/>
<rect x="128" y="686.8" width="28.69999999999999" height="4.1" fill="#2b2e3b"/>
<rect x="157.7" y="686.8" width="42.30000000000001" height="4.1" fill="#2b2e3b"/>
<rect x="201" y="686.8" width="39" height="4.1" fill="#2b2e3b"/>
<rect x="241" y="686.8" width="49" height="4.1" fill="#2b2e3b"/>
<rect x="291" y="686.8" width="39" height="4.1" fill="#2b2e3b"/>
<rect x="331" y="686.8" width="49" height="4.1" fill="#2b2e3b"/>
<rect x="381" y="686.8" width="39" height="4.1" fill="#2b2e3b"/>
<rect x="421" y="686.8" width="49" height="4.1" fill="#2b2e3b"/>
<rect x="471" y="686.8" width="49" height="4.1" fill="#2b2e3b"/>
<rect x="521" y="686.8" width="39" height="4.1" fill="#2b2e3b"/>
<rect x="561" y="686.8" width="39" height="4.1" fill="#2b2e3b"/>
<rect x="601" y="686.8" width="49" height="4.1" fill="#2b2e3b"/>
<rect x="651" y="686.8" width="49" height="4.1" fill="#2b2e3b"/>
<rect x="701" y="686.8" width="49" height="4.1" fill="#2b2e3b"/>
<rect x="751" y="686.8" width="49" height="4.1" fill="#2b2e3b"/>
<rect x="801" y="686.8" width="49" height="4.1" fill="#2b2e3b"/>
<rect x="851" y="686.8" width="49" height="4.1" fill="#2b2e3b"/>
<rect x="901" y="686.8" width="49" height="4.1" fill="#2b2e3b"/>
<rect x="951" y="686.8" width="49" height="4.1" fill="#2b2e3b"/>
<rect x="1001" y="686.8" width="49" height="4.1" fill="#2b2e3b"/>
<rect x="1051" y="686.8" width="49" height="4.1" fill="#2b2e3b"/>
<rect x="1101" y="686.8" width="49" height="4.1" fill="#2b2e3b"/>
<rect x="1151" y="686.8" width="50.5" height="4.1" fill="#2b2e3b"/>
<rect x="1202.5" y="686.8" width="33.0" height="4.1" fill="#2b2e3b"/>
<rect x="1236.5" y="686.8" width="34.0" height="4.1" fill="#2b2e3b"/>
<rect x="1271.5" y="686.8" width="20.0" height="4.1" fill="#2b2e3b"/>
<rect x="1292.5" y="686.8" width="18.5" height="4.1" fill="#2b2e3b"/>
<rect x="0" y="690.9" width="1311" height="1.1" fill="#e8e8e8"/>
<rect x="0" y="0" width="1311" height="1" fill="#e4e4e4"/>
<rect x="0" y="1" width="1311" height="1" fill="#101218"/>
<rect x="0" y="1" width="2" height="314.8" fill="#23262e" />
<rect x="2" y="2" width="1" height="313.8" fill="#16181e" />
<rect x="0" y="375.8" width="2" height="316.2" fill="#23262e" />
<rect x="2" y="375.8" width="1" height="316.2" fill="#16181e" />
<rect x="1309" y="0" width="1" height="692" fill="#111318" />
<rect x="1310" y="0" width="1" height="692" fill="#e4e4e4" />
<text x="944.9" y="9.1" font-size="12" fill="#d0753a" font-family='"Liberation Sans","Noto Sans CJK SC",sans-serif' textLength="204.6" lengthAdjust="spacingAndGlyphs">周四最后一个小时的收盘指数3470.66点</text>
<rect x="0" y="0" width="1311" height="1" fill="#e4e4e4"/>
<rect x="1271" y="38" width="2.5" height="1" fill="#363b48"/>
<rect x="1271" y="72" width="2.5" height="1" fill="#363b48"/>
<rect x="1271" y="106" width="2.5" height="1" fill="#363b48"/>
<rect x="1271" y="140" width="2.5" height="1" fill="#363b48"/>
<rect x="1271" y="174" width="2.5" height="1" fill="#363b48"/>
<rect x="1271" y="207" width="2.5" height="1" fill="#363b48"/>
<rect x="1271" y="241" width="2.5" height="1" fill="#363b48"/>
<rect x="1271" y="275" width="2.5" height="1" fill="#363b48"/>
<rect x="1271" y="358" width="2.5" height="1" fill="#363b48"/>
<rect x="1271" y="386" width="2.5" height="1" fill="#363b48"/>
<rect x="1271" y="414" width="2.5" height="1" fill="#363b48"/>
<rect x="1271" y="468" width="2.5" height="1" fill="#363b48"/>
<rect x="1271" y="491" width="2.5" height="1" fill="#363b48"/>
<rect x="1271" y="512" width="2.5" height="1" fill="#363b48"/>
<rect x="1271" y="534" width="2.5" height="1" fill="#363b48"/>
<rect x="1271" y="611" width="2.5" height="1" fill="#363b48"/>
<rect x="1271" y="645" width="2.5" height="1" fill="#363b48"/>
<rect x="0" y="315.8" width="1311" height="60" fill="#069cd7" fill-opacity="0.55"/>
<text x="335.6" y="355.9" font-size="24.6" fill="#ffffff" font-family='"Liberation Sans","Noto Sans CJK SC",sans-serif' font-weight="bold" textLength="640.5" lengthAdjust="spacingAndGlyphs">郴州股票配资 权威揭晓！2023股票配资平台排名榜出炉</text></svg></body></html>
